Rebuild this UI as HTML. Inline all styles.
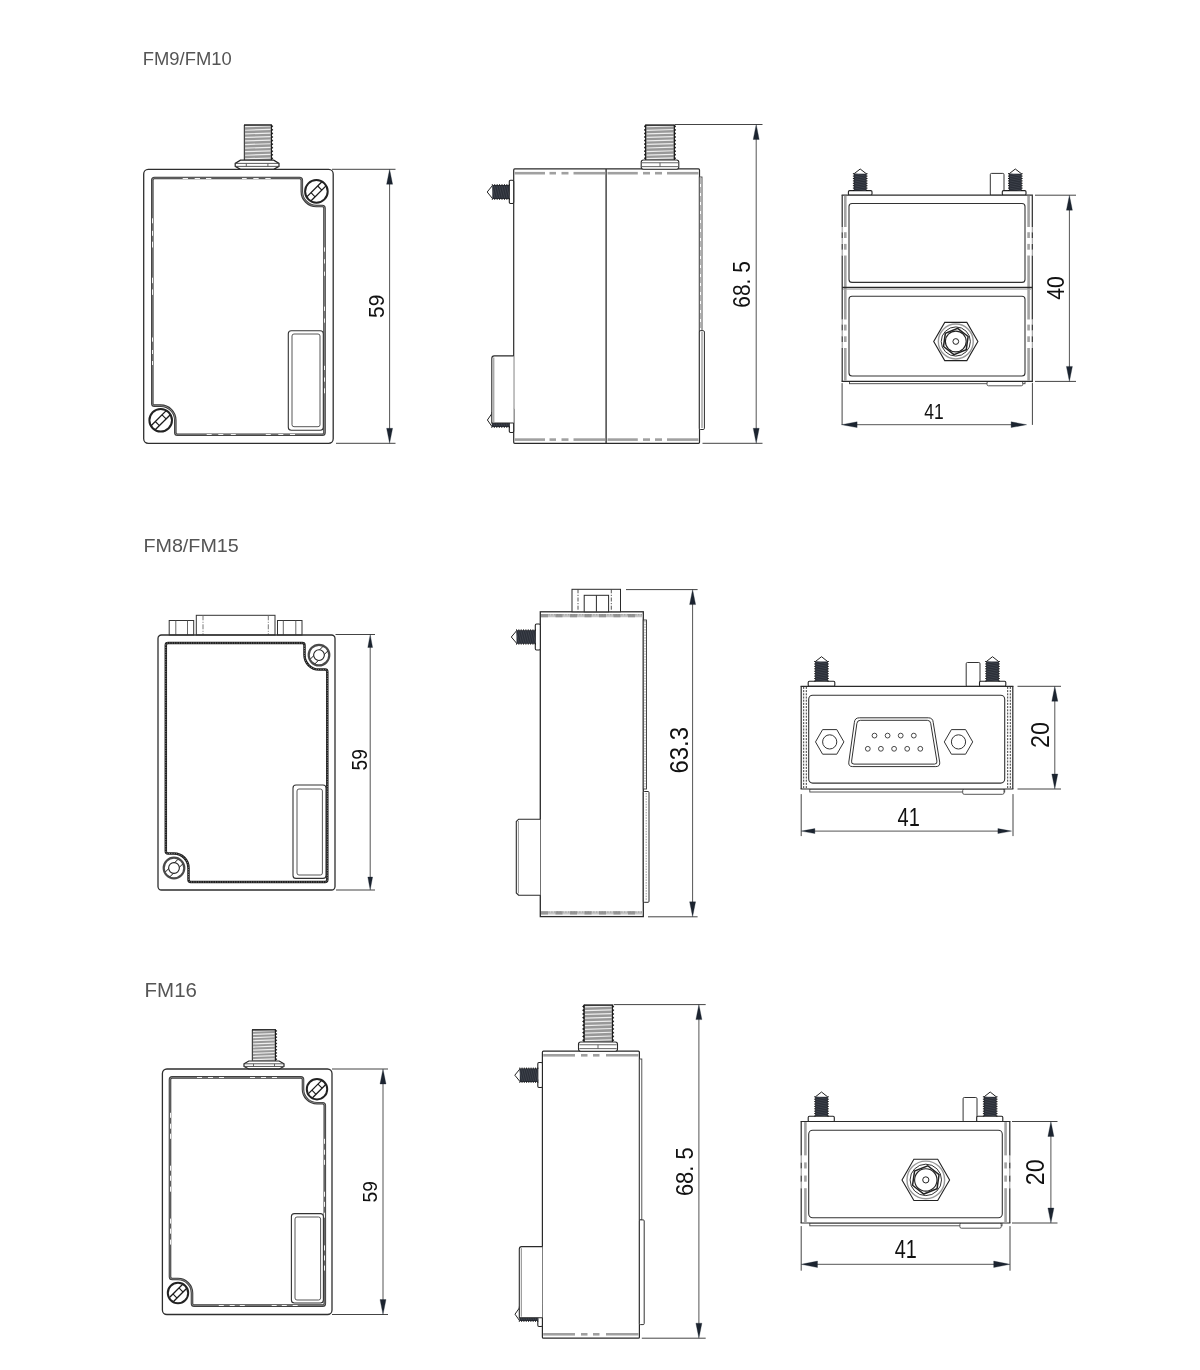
<!DOCTYPE html>
<html><head><meta charset="utf-8"><title>FM series dimensions</title>
<style>
html,body{margin:0;padding:0;background:#fff;}
body{width:1200px;height:1370px;overflow:hidden;font-family:"Liberation Sans",sans-serif;}
svg{display:block;will-change:transform;}
svg text{-webkit-font-smoothing:antialiased;}
svg text{font-family:"Liberation Sans",sans-serif;}
</style></head><body>
<svg width="1200" height="1370" viewBox="0 0 1200 1370">
<rect width="1200" height="1370" fill="#fff"/>
<rect x="244.3" y="124.5" width="27.2" height="35.7" fill="#989898"/>
<line x1="245.1" y1="126.69" x2="270.7" y2="125.88" stroke="#eeeeee" stroke-width="1.2" />
<line x1="245.1" y1="130.25" x2="270.7" y2="129.45" stroke="#eeeeee" stroke-width="1.2" />
<line x1="245.1" y1="133.83" x2="270.7" y2="133.03" stroke="#eeeeee" stroke-width="1.2" />
<line x1="245.1" y1="137.4" x2="270.7" y2="136.59" stroke="#eeeeee" stroke-width="1.2" />
<line x1="245.1" y1="140.97" x2="270.7" y2="140.16" stroke="#eeeeee" stroke-width="1.2" />
<line x1="245.1" y1="144.53" x2="270.7" y2="143.73" stroke="#eeeeee" stroke-width="1.2" />
<line x1="245.1" y1="148.1" x2="270.7" y2="147.3" stroke="#eeeeee" stroke-width="1.2" />
<line x1="245.1" y1="151.67" x2="270.7" y2="150.87" stroke="#eeeeee" stroke-width="1.2" />
<line x1="245.1" y1="155.25" x2="270.7" y2="154.44" stroke="#eeeeee" stroke-width="1.2" />
<line x1="245.1" y1="158.81" x2="270.7" y2="158.01" stroke="#eeeeee" stroke-width="1.2" />
<polygon points="271.2,124.68 273.1,126.28 271.2,127.89" fill="#111" stroke="#111" stroke-width="0.4" />
<polygon points="271.2,128.25 273.1,129.85 271.2,131.46" fill="#111" stroke="#111" stroke-width="0.4" />
<polygon points="271.2,131.82 273.1,133.43 271.2,135.03" fill="#111" stroke="#111" stroke-width="0.4" />
<polygon points="271.2,135.39 273.1,137 271.2,138.6" fill="#111" stroke="#111" stroke-width="0.4" />
<polygon points="271.2,138.96 273.1,140.56 271.2,142.17" fill="#111" stroke="#111" stroke-width="0.4" />
<polygon points="271.2,142.53 273.1,144.13 271.2,145.74" fill="#111" stroke="#111" stroke-width="0.4" />
<polygon points="271.2,146.1 273.1,147.7 271.2,149.31" fill="#111" stroke="#111" stroke-width="0.4" />
<polygon points="271.2,149.67 273.1,151.27 271.2,152.88" fill="#111" stroke="#111" stroke-width="0.4" />
<polygon points="271.2,153.24 273.1,154.84 271.2,156.45" fill="#111" stroke="#111" stroke-width="0.4" />
<polygon points="271.2,156.81 273.1,158.41 271.2,160.02" fill="#111" stroke="#111" stroke-width="0.4" />
<line x1="244.3" y1="125" x2="244.3" y2="160.2" stroke="#1a1a1a" stroke-width="0.9" />
<line x1="271.5" y1="125" x2="271.5" y2="160.2" stroke="#1a1a1a" stroke-width="0.9" />
<line x1="244" y1="125" x2="271.8" y2="125" stroke="#1a1a1a" stroke-width="1.3" />
<polygon points="240.46,160.2 273.74,160.2 279,163.38 279,166.39 273.74,169.3 240.46,169.3 235.2,166.39 235.2,163.38" fill="#fff" stroke="#222" stroke-width="1.2" />
<line x1="235.2" y1="163.38" x2="279" y2="163.38" stroke="#444" stroke-width="0.9" />
<line x1="235.2" y1="166.39" x2="279" y2="166.39" stroke="#444" stroke-width="0.9" />
<line x1="246.3" y1="163.38" x2="246.3" y2="166.39" stroke="#555" stroke-width="0.9" />
<line x1="267.9" y1="163.38" x2="267.9" y2="166.39" stroke="#555" stroke-width="0.9" />
<rect x="143.7" y="169.4" width="189.5" height="273.9" rx="4.5" fill="none" stroke="#2e2e2e" stroke-width="1.3" />
<path d="M152.3,180.2 Q152.3,178 154.5,178 L299.6,178 Q301.8,178 301.8,180.2 L301.8,191.4 A14.6,14.6 0 0 0 316.4,206 L322.3,206 Q324.5,206 324.5,208.2 L324.5,432.5 Q324.5,434.7 322.3,434.7 L177.5,434.7 Q175.3,434.7 175.3,432.5 L175.3,420.2 A14.6,14.6 0 0 0 160.7,405.6 L154.5,405.6 Q152.3,405.6 152.3,403.4 Z" fill="none" stroke="#3a3a3a" stroke-width="2.6" />
<path d="M152.3,180.2 Q152.3,178 154.5,178 L299.6,178 Q301.8,178 301.8,180.2 L301.8,191.4 A14.6,14.6 0 0 0 316.4,206 L322.3,206 Q324.5,206 324.5,208.2 L324.5,432.5 Q324.5,434.7 322.3,434.7 L177.5,434.7 Q175.3,434.7 175.3,432.5 L175.3,420.2 A14.6,14.6 0 0 0 160.7,405.6 L154.5,405.6 Q152.3,405.6 152.3,403.4 Z" fill="none" stroke="#9a9a9a" stroke-width="0.7" />
<line x1="182.7" y1="178.5" x2="188" y2="178.5" stroke="#f4f4f4" stroke-width="1.0" />
<line x1="194.7" y1="178.5" x2="200" y2="178.5" stroke="#f4f4f4" stroke-width="1.0" />
<line x1="206" y1="178.5" x2="211.3" y2="178.5" stroke="#f4f4f4" stroke-width="1.0" />
<line x1="242" y1="178.5" x2="246.7" y2="178.5" stroke="#f4f4f4" stroke-width="1.0" />
<line x1="253.3" y1="178.5" x2="258.7" y2="178.5" stroke="#f4f4f4" stroke-width="1.0" />
<line x1="265.3" y1="178.5" x2="270.7" y2="178.5" stroke="#f4f4f4" stroke-width="1.0" />
<line x1="152.5" y1="218.3" x2="152.5" y2="223.3" stroke="#f4f4f4" stroke-width="1.0" />
<line x1="152.5" y1="230.8" x2="152.5" y2="235.8" stroke="#f4f4f4" stroke-width="1.0" />
<line x1="152.5" y1="241.7" x2="152.5" y2="247.5" stroke="#f4f4f4" stroke-width="1.0" />
<line x1="152.5" y1="277.7" x2="152.5" y2="283.2" stroke="#f4f4f4" stroke-width="1.0" />
<line x1="152.5" y1="289.4" x2="152.5" y2="294.9" stroke="#f4f4f4" stroke-width="1.0" />
<line x1="152.5" y1="337.5" x2="152.5" y2="341.7" stroke="#f4f4f4" stroke-width="1.0" />
<line x1="152.5" y1="350" x2="152.5" y2="354" stroke="#f4f4f4" stroke-width="1.0" />
<line x1="152.5" y1="361" x2="152.5" y2="365" stroke="#f4f4f4" stroke-width="1.0" />
<line x1="206.7" y1="434.5" x2="211.7" y2="434.5" stroke="#f4f4f4" stroke-width="1.0" />
<line x1="218.3" y1="434.5" x2="223.3" y2="434.5" stroke="#f4f4f4" stroke-width="1.0" />
<line x1="230.8" y1="434.5" x2="235.8" y2="434.5" stroke="#f4f4f4" stroke-width="1.0" />
<line x1="265.8" y1="434.5" x2="270.8" y2="434.5" stroke="#f4f4f4" stroke-width="1.0" />
<line x1="278.3" y1="434.5" x2="283.3" y2="434.5" stroke="#f4f4f4" stroke-width="1.0" />
<line x1="290" y1="434.5" x2="295" y2="434.5" stroke="#f4f4f4" stroke-width="1.0" />
<line x1="324.5" y1="365.8" x2="324.5" y2="370" stroke="#f4f4f4" stroke-width="1.0" />
<line x1="324.5" y1="377.5" x2="324.5" y2="381.7" stroke="#f4f4f4" stroke-width="1.0" />
<line x1="324.5" y1="388.3" x2="324.5" y2="393.3" stroke="#f4f4f4" stroke-width="1.0" />
<line x1="324.5" y1="247.4" x2="324.5" y2="251.7" stroke="#f4f4f4" stroke-width="1.0" />
<line x1="324.5" y1="259.2" x2="324.5" y2="263.5" stroke="#f4f4f4" stroke-width="1.0" />
<line x1="324.5" y1="271.6" x2="324.5" y2="275.8" stroke="#f4f4f4" stroke-width="1.0" />
<line x1="324.5" y1="306.6" x2="324.5" y2="310.9" stroke="#f4f4f4" stroke-width="1.0" />
<line x1="324.5" y1="318.5" x2="324.5" y2="322.7" stroke="#f4f4f4" stroke-width="1.0" />
<circle cx="316.4" cy="191.4" r="11.3" fill="#fff" stroke="#222" stroke-width="2.0" />
<line x1="307.05" y1="196.65" x2="321.65" y2="182.05" stroke="#1a1a1a" stroke-width="1.3" />
<line x1="311.15" y1="200.75" x2="325.75" y2="186.15" stroke="#1a1a1a" stroke-width="1.3" />
<line x1="310.99" y1="192.71" x2="315.09" y2="196.81" stroke="#1a1a1a" stroke-width="1.1" />
<line x1="317.71" y1="185.99" x2="321.81" y2="190.09" stroke="#1a1a1a" stroke-width="1.1" />
<circle cx="160.7" cy="420.2" r="11.3" fill="#fff" stroke="#222" stroke-width="2.0" />
<line x1="151.35" y1="425.45" x2="165.95" y2="410.85" stroke="#1a1a1a" stroke-width="1.3" />
<line x1="155.45" y1="429.55" x2="170.05" y2="414.95" stroke="#1a1a1a" stroke-width="1.3" />
<line x1="155.29" y1="421.51" x2="159.39" y2="425.61" stroke="#1a1a1a" stroke-width="1.1" />
<line x1="162.01" y1="414.79" x2="166.11" y2="418.89" stroke="#1a1a1a" stroke-width="1.1" />
<rect x="288.3" y="330.8" width="35" height="99.5" rx="3" fill="#fff" stroke="#333" stroke-width="1.1" />
<rect x="292" y="334" width="28" height="92.7" rx="2" fill="none" stroke="#444" stroke-width="0.9" />
<line x1="332" y1="169.3" x2="395.5" y2="169.3" stroke="#444" stroke-width="1.0" />
<line x1="336" y1="443.3" x2="395.5" y2="443.3" stroke="#444" stroke-width="1.0" />
<line x1="389.6" y1="177.3" x2="389.6" y2="435.3" stroke="#555" stroke-width="1.0" />
<polygon points="389.6,169.3 392.6,184.3 386.6,184.3" fill="#1c2430" stroke="#1c2430" stroke-width="0.3" />
<polygon points="389.6,443.3 386.6,428.3 392.6,428.3" fill="#1c2430" stroke="#1c2430" stroke-width="0.3" />
<text opacity="0.999" transform="translate(384 317.1) rotate(-90) scale(0.9235 1)" x="-0.91" y="0" font-size="22.71" fill="#111" >59</text>
<rect x="196.3" y="615.3" width="78.7" height="19.7" rx="0" fill="#fff" stroke="#333" stroke-width="1.0" />
<line x1="203" y1="615.3" x2="203" y2="635" stroke="#666" stroke-width="0.9" stroke-dasharray="5 1.5 1 1.5"/>
<line x1="268.3" y1="615.3" x2="268.3" y2="635" stroke="#666" stroke-width="0.9" stroke-dasharray="5 1.5 1 1.5"/>
<rect x="169.2" y="620.5" width="24.5" height="14.5" rx="0" fill="#fff" stroke="#333" stroke-width="1.0" />
<line x1="175.8" y1="620.5" x2="175.8" y2="635" stroke="#555" stroke-width="0.9" />
<line x1="187.5" y1="620.5" x2="187.5" y2="635" stroke="#555" stroke-width="0.9" />
<rect x="277.5" y="620.5" width="24.5" height="14.5" rx="0" fill="#fff" stroke="#333" stroke-width="1.0" />
<line x1="283.3" y1="620.5" x2="283.3" y2="635" stroke="#555" stroke-width="0.9" />
<line x1="295.8" y1="620.5" x2="295.8" y2="635" stroke="#555" stroke-width="0.9" />
<rect x="158" y="635" width="177" height="255" rx="3.5" fill="none" stroke="#2e2e2e" stroke-width="1.3" />
<path d="M165.8,645.2 Q165.8,643 168,643 L302.3,643 Q304.5,643 304.5,645.2 L304.5,655.1 A14.5,14.5 0 0 0 319,669.6 L325.1,669.6 Q327.3,669.6 327.3,671.8 L327.3,879.8 Q327.3,882 325.1,882 L190.7,882 Q188.5,882 188.5,879.8 L188.5,868 A14.5,14.5 0 0 0 174,853.5 L168,853.5 Q165.8,853.5 165.8,851.3 Z" fill="none" stroke="#1e1e1e" stroke-width="2.5" />
<path d="M165.8,645.2 Q165.8,643 168,643 L302.3,643 Q304.5,643 304.5,645.2 L304.5,655.1 A14.5,14.5 0 0 0 319,669.6 L325.1,669.6 Q327.3,669.6 327.3,671.8 L327.3,879.8 Q327.3,882 325.1,882 L190.7,882 Q188.5,882 188.5,879.8 L188.5,868 A14.5,14.5 0 0 0 174,853.5 L168,853.5 Q165.8,853.5 165.8,851.3 Z" fill="none" stroke="#bbb" stroke-width="0.7" stroke-dasharray="1 1.4"/>
<circle cx="319" cy="655.1" r="10.3" fill="#fff" stroke="#4a4a4a" stroke-width="2.2" />
<line x1="310.19" y1="659.24" x2="323.14" y2="646.29" stroke="#1a1a1a" stroke-width="1.0" />
<line x1="314.86" y1="663.91" x2="327.81" y2="650.96" stroke="#1a1a1a" stroke-width="1.0" />
<circle cx="319" cy="655.1" r="5.36" fill="#fff" stroke="#222" stroke-width="1.1" />
<circle cx="174" cy="868" r="10.3" fill="#fff" stroke="#4a4a4a" stroke-width="2.2" />
<line x1="165.19" y1="872.14" x2="178.14" y2="859.19" stroke="#1a1a1a" stroke-width="1.0" />
<line x1="169.86" y1="876.81" x2="182.81" y2="863.86" stroke="#1a1a1a" stroke-width="1.0" />
<circle cx="174" cy="868" r="5.36" fill="#fff" stroke="#222" stroke-width="1.1" />
<rect x="293" y="785" width="33" height="93.4" rx="3" fill="#fff" stroke="#333" stroke-width="1.1" />
<rect x="297" y="789" width="25.4" height="86" rx="2" fill="none" stroke="#444" stroke-width="0.9" />
<line x1="335.5" y1="634.5" x2="375" y2="634.5" stroke="#444" stroke-width="1.0" />
<line x1="336" y1="890" x2="375" y2="890" stroke="#444" stroke-width="1.0" />
<line x1="370.2" y1="642.5" x2="370.2" y2="882" stroke="#555" stroke-width="1.0" />
<polygon points="370.2,634.5 372.6,647.5 367.8,647.5" fill="#1c2430" stroke="#1c2430" stroke-width="0.3" />
<polygon points="370.2,890 367.8,877 372.6,877" fill="#1c2430" stroke="#1c2430" stroke-width="0.3" />
<text opacity="0.999" transform="translate(366.7 769.7) rotate(-90) scale(0.8569 1)" x="-0.9" y="0" font-size="22.43" fill="#111" >59</text>
<rect x="252.3" y="1029.3" width="23.2" height="31.5" fill="#989898"/>
<line x1="253.1" y1="1031.28" x2="274.7" y2="1030.47" stroke="#eeeeee" stroke-width="1.2" />
<line x1="253.1" y1="1034.42" x2="274.7" y2="1033.62" stroke="#eeeeee" stroke-width="1.2" />
<line x1="253.1" y1="1037.58" x2="274.7" y2="1036.77" stroke="#eeeeee" stroke-width="1.2" />
<line x1="253.1" y1="1040.73" x2="274.7" y2="1039.92" stroke="#eeeeee" stroke-width="1.2" />
<line x1="253.1" y1="1043.88" x2="274.7" y2="1043.07" stroke="#eeeeee" stroke-width="1.2" />
<line x1="253.1" y1="1047.03" x2="274.7" y2="1046.22" stroke="#eeeeee" stroke-width="1.2" />
<line x1="253.1" y1="1050.17" x2="274.7" y2="1049.37" stroke="#eeeeee" stroke-width="1.2" />
<line x1="253.1" y1="1053.33" x2="274.7" y2="1052.52" stroke="#eeeeee" stroke-width="1.2" />
<line x1="253.1" y1="1056.48" x2="274.7" y2="1055.67" stroke="#eeeeee" stroke-width="1.2" />
<line x1="253.1" y1="1059.62" x2="274.7" y2="1058.82" stroke="#eeeeee" stroke-width="1.2" />
<polygon points="275.2,1029.46 277.1,1030.88 275.2,1032.29" fill="#111" stroke="#111" stroke-width="0.4" />
<polygon points="275.2,1032.61 277.1,1034.02 275.2,1035.44" fill="#111" stroke="#111" stroke-width="0.4" />
<polygon points="275.2,1035.76 277.1,1037.17 275.2,1038.59" fill="#111" stroke="#111" stroke-width="0.4" />
<polygon points="275.2,1038.91 277.1,1040.33 275.2,1041.74" fill="#111" stroke="#111" stroke-width="0.4" />
<polygon points="275.2,1042.06 277.1,1043.47 275.2,1044.89" fill="#111" stroke="#111" stroke-width="0.4" />
<polygon points="275.2,1045.21 277.1,1046.62 275.2,1048.04" fill="#111" stroke="#111" stroke-width="0.4" />
<polygon points="275.2,1048.36 277.1,1049.77 275.2,1051.19" fill="#111" stroke="#111" stroke-width="0.4" />
<polygon points="275.2,1051.51 277.1,1052.92 275.2,1054.34" fill="#111" stroke="#111" stroke-width="0.4" />
<polygon points="275.2,1054.66 277.1,1056.08 275.2,1057.49" fill="#111" stroke="#111" stroke-width="0.4" />
<polygon points="275.2,1057.81 277.1,1059.22 275.2,1060.64" fill="#111" stroke="#111" stroke-width="0.4" />
<line x1="252.3" y1="1029.8" x2="252.3" y2="1060.8" stroke="#1a1a1a" stroke-width="0.9" />
<line x1="275.5" y1="1029.8" x2="275.5" y2="1060.8" stroke="#1a1a1a" stroke-width="0.9" />
<line x1="252" y1="1029.8" x2="275.8" y2="1029.8" stroke="#1a1a1a" stroke-width="1.3" />
<polygon points="248.8,1061 279.2,1061 284,1063.8 284,1066.44 279.2,1069 248.8,1069 244,1066.44 244,1063.8" fill="#fff" stroke="#222" stroke-width="1.2" />
<line x1="244" y1="1063.8" x2="284" y2="1063.8" stroke="#444" stroke-width="0.9" />
<line x1="244" y1="1066.44" x2="284" y2="1066.44" stroke="#444" stroke-width="0.9" />
<line x1="253.5" y1="1063.8" x2="253.5" y2="1066.44" stroke="#555" stroke-width="0.9" />
<line x1="274.5" y1="1063.8" x2="274.5" y2="1066.44" stroke="#555" stroke-width="0.9" />
<rect x="162.4" y="1069" width="169.6" height="245.5" rx="4.5" fill="none" stroke="#2e2e2e" stroke-width="1.3" />
<path d="M170,1079.6 Q170,1077.4 172.2,1077.4 L300.8,1077.4 Q303,1077.4 303,1079.6 L303,1089.2 A14,14 0 0 0 317,1103.2 L322.6,1103.2 Q324.8,1103.2 324.8,1105.4 L324.8,1303.4 Q324.8,1305.6 322.6,1305.6 L194.2,1305.6 Q192,1305.6 192,1303.4 L192,1293 A14,14 0 0 0 178,1279 L172.2,1279 Q170,1279 170,1276.8 Z" fill="none" stroke="#3a3a3a" stroke-width="2.6" />
<path d="M170,1079.6 Q170,1077.4 172.2,1077.4 L300.8,1077.4 Q303,1077.4 303,1079.6 L303,1089.2 A14,14 0 0 0 317,1103.2 L322.6,1103.2 Q324.8,1103.2 324.8,1105.4 L324.8,1303.4 Q324.8,1305.6 322.6,1305.6 L194.2,1305.6 Q192,1305.6 192,1303.4 L192,1293 A14,14 0 0 0 178,1279 L172.2,1279 Q170,1279 170,1276.8 Z" fill="none" stroke="#9a9a9a" stroke-width="0.7" />
<line x1="197" y1="1077.5" x2="202" y2="1077.5" stroke="#f4f4f4" stroke-width="1.0" />
<line x1="208" y1="1077.5" x2="213" y2="1077.5" stroke="#f4f4f4" stroke-width="1.0" />
<line x1="219" y1="1077.5" x2="224" y2="1077.5" stroke="#f4f4f4" stroke-width="1.0" />
<line x1="250" y1="1077.5" x2="255" y2="1077.5" stroke="#f4f4f4" stroke-width="1.0" />
<line x1="261" y1="1077.5" x2="266" y2="1077.5" stroke="#f4f4f4" stroke-width="1.0" />
<line x1="272" y1="1077.5" x2="277" y2="1077.5" stroke="#f4f4f4" stroke-width="1.0" />
<line x1="170.5" y1="1112.8" x2="170.5" y2="1117.8" stroke="#f4f4f4" stroke-width="1.0" />
<line x1="170.5" y1="1123.7" x2="170.5" y2="1128.7" stroke="#f4f4f4" stroke-width="1.0" />
<line x1="170.5" y1="1133.7" x2="170.5" y2="1138.8" stroke="#f4f4f4" stroke-width="1.0" />
<line x1="170.5" y1="1165.7" x2="170.5" y2="1170.7" stroke="#f4f4f4" stroke-width="1.0" />
<line x1="170.5" y1="1175.7" x2="170.5" y2="1180.8" stroke="#f4f4f4" stroke-width="1.0" />
<line x1="170.5" y1="1186.6" x2="170.5" y2="1191.7" stroke="#f4f4f4" stroke-width="1.0" />
<line x1="170.5" y1="1218.6" x2="170.5" y2="1223.6" stroke="#f4f4f4" stroke-width="1.0" />
<line x1="170.5" y1="1228.6" x2="170.5" y2="1233.7" stroke="#f4f4f4" stroke-width="1.0" />
<line x1="170.5" y1="1239.6" x2="170.5" y2="1244.6" stroke="#f4f4f4" stroke-width="1.0" />
<line x1="324.5" y1="1138.8" x2="324.5" y2="1143.8" stroke="#f4f4f4" stroke-width="1.0" />
<line x1="324.5" y1="1149.7" x2="324.5" y2="1154.7" stroke="#f4f4f4" stroke-width="1.0" />
<line x1="324.5" y1="1159.8" x2="324.5" y2="1164.8" stroke="#f4f4f4" stroke-width="1.0" />
<line x1="324.5" y1="1191.7" x2="324.5" y2="1196.7" stroke="#f4f4f4" stroke-width="1.0" />
<line x1="324.5" y1="1201.8" x2="324.5" y2="1206.8" stroke="#f4f4f4" stroke-width="1.0" />
<line x1="324.5" y1="1212.7" x2="324.5" y2="1217.7" stroke="#f4f4f4" stroke-width="1.0" />
<line x1="324.5" y1="1245.4" x2="324.5" y2="1250.5" stroke="#f4f4f4" stroke-width="1.0" />
<line x1="324.5" y1="1255.5" x2="324.5" y2="1260.5" stroke="#f4f4f4" stroke-width="1.0" />
<line x1="324.5" y1="1265.6" x2="324.5" y2="1270.6" stroke="#f4f4f4" stroke-width="1.0" />
<line x1="218.8" y1="1305.5" x2="223.8" y2="1305.5" stroke="#f4f4f4" stroke-width="1.0" />
<line x1="229.7" y1="1305.5" x2="234.7" y2="1305.5" stroke="#f4f4f4" stroke-width="1.0" />
<line x1="239.8" y1="1305.5" x2="244.8" y2="1305.5" stroke="#f4f4f4" stroke-width="1.0" />
<line x1="271.7" y1="1305.5" x2="276.7" y2="1305.5" stroke="#f4f4f4" stroke-width="1.0" />
<line x1="281.8" y1="1305.5" x2="286.8" y2="1305.5" stroke="#f4f4f4" stroke-width="1.0" />
<line x1="292.7" y1="1305.5" x2="297.7" y2="1305.5" stroke="#f4f4f4" stroke-width="1.0" />
<circle cx="317" cy="1089.2" r="10.2" fill="#fff" stroke="#222" stroke-width="2.0" />
<line x1="308.46" y1="1093.64" x2="321.44" y2="1080.66" stroke="#1a1a1a" stroke-width="1.3" />
<line x1="312.56" y1="1097.74" x2="325.54" y2="1084.76" stroke="#1a1a1a" stroke-width="1.3" />
<line x1="311.92" y1="1090.18" x2="316.02" y2="1094.28" stroke="#1a1a1a" stroke-width="1.1" />
<line x1="317.98" y1="1084.12" x2="322.08" y2="1088.22" stroke="#1a1a1a" stroke-width="1.1" />
<circle cx="178" cy="1293" r="10.2" fill="#fff" stroke="#222" stroke-width="2.0" />
<line x1="169.46" y1="1297.44" x2="182.44" y2="1284.46" stroke="#1a1a1a" stroke-width="1.3" />
<line x1="173.56" y1="1301.54" x2="186.54" y2="1288.56" stroke="#1a1a1a" stroke-width="1.3" />
<line x1="172.92" y1="1293.98" x2="177.02" y2="1298.08" stroke="#1a1a1a" stroke-width="1.1" />
<line x1="178.98" y1="1287.92" x2="183.08" y2="1292.02" stroke="#1a1a1a" stroke-width="1.1" />
<rect x="291.4" y="1213.6" width="32" height="89.4" rx="3" fill="#fff" stroke="#333" stroke-width="1.1" />
<rect x="295" y="1217" width="25.6" height="83" rx="2" fill="none" stroke="#444" stroke-width="0.9" />
<line x1="332" y1="1069" x2="388" y2="1069" stroke="#444" stroke-width="1.0" />
<line x1="332" y1="1314.5" x2="388" y2="1314.5" stroke="#444" stroke-width="1.0" />
<line x1="383" y1="1077" x2="383" y2="1306.5" stroke="#555" stroke-width="1.0" />
<polygon points="383,1069 386,1084 380,1084" fill="#1c2430" stroke="#1c2430" stroke-width="0.3" />
<polygon points="383,1314.5 380,1299.5 386,1299.5" fill="#1c2430" stroke="#1c2430" stroke-width="0.3" />
<text opacity="0.999" transform="translate(377 1201.7) rotate(-90) scale(0.9474 1)" x="-0.81" y="0" font-size="20.29" fill="#111" >59</text>
<rect x="513.7" y="168.9" width="185.8" height="274.4" rx="1" fill="none" stroke="#2a2a2a" stroke-width="1.2" />
<line x1="606.1" y1="168.9" x2="606.1" y2="443.3" stroke="#2a2a2a" stroke-width="1.3" />
<line x1="514.5" y1="173.2" x2="545" y2="173.2" stroke="#a0a0a0" stroke-width="2.6" />
<line x1="549.5" y1="173.2" x2="556" y2="173.2" stroke="#a0a0a0" stroke-width="2.6" />
<line x1="561.5" y1="173.2" x2="568.5" y2="173.2" stroke="#a0a0a0" stroke-width="2.6" />
<line x1="573.5" y1="173.2" x2="605" y2="173.2" stroke="#a0a0a0" stroke-width="2.6" />
<line x1="607.5" y1="173.2" x2="637.8" y2="173.2" stroke="#a0a0a0" stroke-width="2.6" />
<line x1="643" y1="173.2" x2="650" y2="173.2" stroke="#a0a0a0" stroke-width="2.6" />
<line x1="655" y1="173.2" x2="662" y2="173.2" stroke="#a0a0a0" stroke-width="2.6" />
<line x1="667" y1="173.2" x2="698.5" y2="173.2" stroke="#a0a0a0" stroke-width="2.6" />
<line x1="514.5" y1="439.6" x2="545" y2="439.6" stroke="#a0a0a0" stroke-width="2.6" />
<line x1="549.5" y1="439.6" x2="556" y2="439.6" stroke="#a0a0a0" stroke-width="2.6" />
<line x1="561.5" y1="439.6" x2="568.5" y2="439.6" stroke="#a0a0a0" stroke-width="2.6" />
<line x1="573.5" y1="439.6" x2="605" y2="439.6" stroke="#a0a0a0" stroke-width="2.6" />
<line x1="607.5" y1="439.6" x2="637.8" y2="439.6" stroke="#a0a0a0" stroke-width="2.6" />
<line x1="643" y1="439.6" x2="650" y2="439.6" stroke="#a0a0a0" stroke-width="2.6" />
<line x1="655" y1="439.6" x2="662" y2="439.6" stroke="#a0a0a0" stroke-width="2.6" />
<line x1="667" y1="439.6" x2="698.5" y2="439.6" stroke="#a0a0a0" stroke-width="2.6" />
<rect x="699.3" y="177" width="2.7" height="154" rx="0" fill="#fff" stroke="#444" stroke-width="0.9" />
<line x1="700.6" y1="178" x2="700.6" y2="330" stroke="#999" stroke-width="0.8" stroke-dasharray="6 3"/>
<rect x="699.3" y="330.7" width="5.1" height="98.8" rx="1.2" fill="#fff" stroke="#2a2a2a" stroke-width="1.0" />
<line x1="702" y1="332" x2="702" y2="428" stroke="#555" stroke-width="0.8" />
<rect x="645.6" y="124.6" width="28.8" height="35.4" fill="#989898"/>
<line x1="646.4" y1="126.77" x2="673.6" y2="125.97" stroke="#eeeeee" stroke-width="1.2" />
<line x1="646.4" y1="130.31" x2="673.6" y2="129.51" stroke="#eeeeee" stroke-width="1.2" />
<line x1="646.4" y1="133.85" x2="673.6" y2="133.05" stroke="#eeeeee" stroke-width="1.2" />
<line x1="646.4" y1="137.39" x2="673.6" y2="136.59" stroke="#eeeeee" stroke-width="1.2" />
<line x1="646.4" y1="140.93" x2="673.6" y2="140.13" stroke="#eeeeee" stroke-width="1.2" />
<line x1="646.4" y1="144.47" x2="673.6" y2="143.67" stroke="#eeeeee" stroke-width="1.2" />
<line x1="646.4" y1="148.01" x2="673.6" y2="147.21" stroke="#eeeeee" stroke-width="1.2" />
<line x1="646.4" y1="151.55" x2="673.6" y2="150.75" stroke="#eeeeee" stroke-width="1.2" />
<line x1="646.4" y1="155.09" x2="673.6" y2="154.29" stroke="#eeeeee" stroke-width="1.2" />
<line x1="646.4" y1="158.63" x2="673.6" y2="157.83" stroke="#eeeeee" stroke-width="1.2" />
<polygon points="674.1,124.78 676,126.37 674.1,127.96" fill="#111" stroke="#111" stroke-width="0.4" />
<polygon points="645.9,124.78 644,126.37 645.9,127.96" fill="#111" stroke="#111" stroke-width="0.4" />
<polygon points="674.1,128.32 676,129.91 674.1,131.5" fill="#111" stroke="#111" stroke-width="0.4" />
<polygon points="645.9,128.32 644,129.91 645.9,131.5" fill="#111" stroke="#111" stroke-width="0.4" />
<polygon points="674.1,131.86 676,133.45 674.1,135.04" fill="#111" stroke="#111" stroke-width="0.4" />
<polygon points="645.9,131.86 644,133.45 645.9,135.04" fill="#111" stroke="#111" stroke-width="0.4" />
<polygon points="674.1,135.4 676,136.99 674.1,138.58" fill="#111" stroke="#111" stroke-width="0.4" />
<polygon points="645.9,135.4 644,136.99 645.9,138.58" fill="#111" stroke="#111" stroke-width="0.4" />
<polygon points="674.1,138.94 676,140.53 674.1,142.12" fill="#111" stroke="#111" stroke-width="0.4" />
<polygon points="645.9,138.94 644,140.53 645.9,142.12" fill="#111" stroke="#111" stroke-width="0.4" />
<polygon points="674.1,142.48 676,144.07 674.1,145.66" fill="#111" stroke="#111" stroke-width="0.4" />
<polygon points="645.9,142.48 644,144.07 645.9,145.66" fill="#111" stroke="#111" stroke-width="0.4" />
<polygon points="674.1,146.02 676,147.61 674.1,149.2" fill="#111" stroke="#111" stroke-width="0.4" />
<polygon points="645.9,146.02 644,147.61 645.9,149.2" fill="#111" stroke="#111" stroke-width="0.4" />
<polygon points="674.1,149.56 676,151.15 674.1,152.74" fill="#111" stroke="#111" stroke-width="0.4" />
<polygon points="645.9,149.56 644,151.15 645.9,152.74" fill="#111" stroke="#111" stroke-width="0.4" />
<polygon points="674.1,153.1 676,154.69 674.1,156.28" fill="#111" stroke="#111" stroke-width="0.4" />
<polygon points="645.9,153.1 644,154.69 645.9,156.28" fill="#111" stroke="#111" stroke-width="0.4" />
<polygon points="674.1,156.64 676,158.23 674.1,159.82" fill="#111" stroke="#111" stroke-width="0.4" />
<polygon points="645.9,156.64 644,158.23 645.9,159.82" fill="#111" stroke="#111" stroke-width="0.4" />
<line x1="645.6" y1="125.1" x2="645.6" y2="160" stroke="#1a1a1a" stroke-width="0.9" />
<line x1="674.4" y1="125.1" x2="674.4" y2="160" stroke="#1a1a1a" stroke-width="0.9" />
<line x1="645.3" y1="125.1" x2="674.7" y2="125.1" stroke="#1a1a1a" stroke-width="1.3" />
<rect x="641.2" y="160" width="37.6" height="9.2" rx="2.2" fill="#fff" stroke="#2a2a2a" stroke-width="1.1" />
<line x1="642" y1="162.76" x2="678" y2="162.76" stroke="#555" stroke-width="0.9" />
<line x1="642" y1="166.62" x2="678" y2="166.62" stroke="#555" stroke-width="0.9" />
<line x1="660" y1="162.76" x2="660" y2="166.62" stroke="#555" stroke-width="0.9" />
<rect x="509.3" y="180.3" width="4.4" height="23.2" rx="1.2" fill="#fff" stroke="#222" stroke-width="1.1" />
<polyline points="492.3,185.7 487.2,192 492.3,198.3" fill="#fff" stroke="#222" stroke-width="1.0" />
<rect x="492.3" y="185" width="17" height="14" fill="#2b2f38"/>
<line x1="492.3" y1="184.2" x2="492.3" y2="185.5" stroke="#111" stroke-width="1.0" />
<line x1="492.3" y1="198.5" x2="492.3" y2="199.8" stroke="#111" stroke-width="1.0" />
<line x1="494.73" y1="184.2" x2="494.73" y2="185.5" stroke="#111" stroke-width="1.0" />
<line x1="494.73" y1="198.5" x2="494.73" y2="199.8" stroke="#111" stroke-width="1.0" />
<line x1="497.16" y1="184.2" x2="497.16" y2="185.5" stroke="#111" stroke-width="1.0" />
<line x1="497.16" y1="198.5" x2="497.16" y2="199.8" stroke="#111" stroke-width="1.0" />
<line x1="499.59" y1="184.2" x2="499.59" y2="185.5" stroke="#111" stroke-width="1.0" />
<line x1="499.59" y1="198.5" x2="499.59" y2="199.8" stroke="#111" stroke-width="1.0" />
<line x1="502.01" y1="184.2" x2="502.01" y2="185.5" stroke="#111" stroke-width="1.0" />
<line x1="502.01" y1="198.5" x2="502.01" y2="199.8" stroke="#111" stroke-width="1.0" />
<line x1="504.44" y1="184.2" x2="504.44" y2="185.5" stroke="#111" stroke-width="1.0" />
<line x1="504.44" y1="198.5" x2="504.44" y2="199.8" stroke="#111" stroke-width="1.0" />
<line x1="506.87" y1="184.2" x2="506.87" y2="185.5" stroke="#111" stroke-width="1.0" />
<line x1="506.87" y1="198.5" x2="506.87" y2="199.8" stroke="#111" stroke-width="1.0" />
<line x1="509.3" y1="184.2" x2="509.3" y2="185.5" stroke="#111" stroke-width="1.0" />
<line x1="509.3" y1="198.5" x2="509.3" y2="199.8" stroke="#111" stroke-width="1.0" />
<line x1="492.01" y1="186" x2="495.01" y2="198" stroke="#4a4f58" stroke-width="0.6" />
<line x1="494.44" y1="186" x2="497.44" y2="198" stroke="#4a4f58" stroke-width="0.6" />
<line x1="496.87" y1="186" x2="499.87" y2="198" stroke="#4a4f58" stroke-width="0.6" />
<line x1="499.3" y1="186" x2="502.3" y2="198" stroke="#4a4f58" stroke-width="0.6" />
<line x1="501.73" y1="186" x2="504.73" y2="198" stroke="#4a4f58" stroke-width="0.6" />
<line x1="504.16" y1="186" x2="507.16" y2="198" stroke="#4a4f58" stroke-width="0.6" />
<line x1="506.59" y1="186" x2="509.59" y2="198" stroke="#4a4f58" stroke-width="0.6" />
<rect x="509.3" y="408" width="4.4" height="24.5" rx="1.2" fill="#fff" stroke="#222" stroke-width="1.1" />
<polyline points="491.8,413.7 487.4,420 491.8,426.3" fill="#fff" stroke="#222" stroke-width="1.0" />
<rect x="491.8" y="413" width="17.5" height="14" fill="#2b2f38"/>
<line x1="491.8" y1="412.2" x2="491.8" y2="413.5" stroke="#111" stroke-width="1.0" />
<line x1="491.8" y1="426.5" x2="491.8" y2="427.8" stroke="#111" stroke-width="1.0" />
<line x1="494.3" y1="412.2" x2="494.3" y2="413.5" stroke="#111" stroke-width="1.0" />
<line x1="494.3" y1="426.5" x2="494.3" y2="427.8" stroke="#111" stroke-width="1.0" />
<line x1="496.8" y1="412.2" x2="496.8" y2="413.5" stroke="#111" stroke-width="1.0" />
<line x1="496.8" y1="426.5" x2="496.8" y2="427.8" stroke="#111" stroke-width="1.0" />
<line x1="499.3" y1="412.2" x2="499.3" y2="413.5" stroke="#111" stroke-width="1.0" />
<line x1="499.3" y1="426.5" x2="499.3" y2="427.8" stroke="#111" stroke-width="1.0" />
<line x1="501.8" y1="412.2" x2="501.8" y2="413.5" stroke="#111" stroke-width="1.0" />
<line x1="501.8" y1="426.5" x2="501.8" y2="427.8" stroke="#111" stroke-width="1.0" />
<line x1="504.3" y1="412.2" x2="504.3" y2="413.5" stroke="#111" stroke-width="1.0" />
<line x1="504.3" y1="426.5" x2="504.3" y2="427.8" stroke="#111" stroke-width="1.0" />
<line x1="506.8" y1="412.2" x2="506.8" y2="413.5" stroke="#111" stroke-width="1.0" />
<line x1="506.8" y1="426.5" x2="506.8" y2="427.8" stroke="#111" stroke-width="1.0" />
<line x1="509.3" y1="412.2" x2="509.3" y2="413.5" stroke="#111" stroke-width="1.0" />
<line x1="509.3" y1="426.5" x2="509.3" y2="427.8" stroke="#111" stroke-width="1.0" />
<line x1="491.55" y1="414" x2="494.55" y2="426" stroke="#4a4f58" stroke-width="0.6" />
<line x1="494.05" y1="414" x2="497.05" y2="426" stroke="#4a4f58" stroke-width="0.6" />
<line x1="496.55" y1="414" x2="499.55" y2="426" stroke="#4a4f58" stroke-width="0.6" />
<line x1="499.05" y1="414" x2="502.05" y2="426" stroke="#4a4f58" stroke-width="0.6" />
<line x1="501.55" y1="414" x2="504.55" y2="426" stroke="#4a4f58" stroke-width="0.6" />
<line x1="504.05" y1="414" x2="507.05" y2="426" stroke="#4a4f58" stroke-width="0.6" />
<line x1="506.55" y1="414" x2="509.55" y2="426" stroke="#4a4f58" stroke-width="0.6" />
<path d="M513.7,355.9 L494.3,355.9 Q491.8,355.9 491.8,358.4 L491.8,423 L513.7,423" fill="#fff" stroke="#2a2a2a" stroke-width="1.1" />
<line x1="493.8" y1="357.5" x2="493.8" y2="422" stroke="#888" stroke-width="1.0" />
<line x1="675" y1="124.5" x2="762.5" y2="124.5" stroke="#444" stroke-width="1.0" />
<line x1="702.5" y1="443.3" x2="762.5" y2="443.3" stroke="#444" stroke-width="1.0" />
<line x1="756.2" y1="132.5" x2="756.2" y2="435.3" stroke="#555" stroke-width="1.0" />
<polygon points="756.2,124.5 759.2,139.5 753.2,139.5" fill="#1c2430" stroke="#1c2430" stroke-width="0.3" />
<polygon points="756.2,443.3 753.2,428.3 759.2,428.3" fill="#1c2430" stroke="#1c2430" stroke-width="0.3" />
<text opacity="0.999" transform="translate(750.3 306.7) rotate(-90) scale(0.9103 1)" x="-1.15" y="0" font-size="23.00" fill="#111" >68. 5</text>
<rect x="540.3" y="611.8" width="103" height="304.8" rx="0" fill="none" stroke="#2a2a2a" stroke-width="1.3" />
<line x1="541" y1="615.6" x2="642.6" y2="615.6" stroke="#c4c4c4" stroke-width="3.2" />
<line x1="541" y1="615.6" x2="642.6" y2="615.6" stroke="#959595" stroke-width="3.2" stroke-dasharray="7 7.5"/>
<line x1="548.5" y1="614.8" x2="642.6" y2="614.8" stroke="#888" stroke-width="0.8" stroke-dasharray="1.2 1.6" stroke-dashoffset="0"/>
<line x1="541" y1="912.8" x2="642.6" y2="912.8" stroke="#c4c4c4" stroke-width="3.2" />
<line x1="541" y1="912.8" x2="642.6" y2="912.8" stroke="#959595" stroke-width="3.2" stroke-dasharray="7 7.5"/>
<line x1="548.5" y1="912" x2="642.6" y2="912" stroke="#888" stroke-width="0.8" stroke-dasharray="1.2 1.6" stroke-dashoffset="0"/>
<rect x="572" y="589.3" width="48.5" height="22.5" rx="0" fill="#fff" stroke="#2a2a2a" stroke-width="1.0" />
<line x1="578" y1="589.3" x2="578" y2="611.8" stroke="#444" stroke-width="0.9" stroke-dasharray="4 1.5 1.2 1.5"/>
<line x1="611.3" y1="589.3" x2="611.3" y2="611.8" stroke="#444" stroke-width="0.9" stroke-dasharray="4 1.5 1.2 1.5"/>
<rect x="584.2" y="595.3" width="24.4" height="16.5" rx="0" fill="#fff" stroke="#2a2a2a" stroke-width="1.0" />
<line x1="596.4" y1="595.3" x2="596.4" y2="611.8" stroke="#2a2a2a" stroke-width="1.0" />
<rect x="643.3" y="620" width="3.2" height="169" rx="0" fill="#fff" stroke="#333" stroke-width="0.9" />
<line x1="645" y1="621" x2="645" y2="788" stroke="#777" stroke-width="0.8" stroke-dasharray="1.5 1.2"/>
<rect x="643.3" y="791.5" width="5.7" height="110.8" rx="1" fill="#fff" stroke="#2a2a2a" stroke-width="1.0" />
<line x1="646.2" y1="793" x2="646.2" y2="901" stroke="#777" stroke-width="0.8" stroke-dasharray="1.5 1.2"/>
<rect x="535.3" y="624" width="5" height="26" rx="1.2" fill="#fff" stroke="#222" stroke-width="1.1" />
<polyline points="516.5,630.88 511.3,637 516.5,643.12" fill="#fff" stroke="#222" stroke-width="1.0" />
<rect x="516.5" y="630.2" width="18.8" height="13.6" fill="#2b2f38"/>
<line x1="516.5" y1="629.4" x2="516.5" y2="630.7" stroke="#111" stroke-width="1.0" />
<line x1="516.5" y1="643.3" x2="516.5" y2="644.6" stroke="#111" stroke-width="1.0" />
<line x1="518.85" y1="629.4" x2="518.85" y2="630.7" stroke="#111" stroke-width="1.0" />
<line x1="518.85" y1="643.3" x2="518.85" y2="644.6" stroke="#111" stroke-width="1.0" />
<line x1="521.2" y1="629.4" x2="521.2" y2="630.7" stroke="#111" stroke-width="1.0" />
<line x1="521.2" y1="643.3" x2="521.2" y2="644.6" stroke="#111" stroke-width="1.0" />
<line x1="523.55" y1="629.4" x2="523.55" y2="630.7" stroke="#111" stroke-width="1.0" />
<line x1="523.55" y1="643.3" x2="523.55" y2="644.6" stroke="#111" stroke-width="1.0" />
<line x1="525.9" y1="629.4" x2="525.9" y2="630.7" stroke="#111" stroke-width="1.0" />
<line x1="525.9" y1="643.3" x2="525.9" y2="644.6" stroke="#111" stroke-width="1.0" />
<line x1="528.25" y1="629.4" x2="528.25" y2="630.7" stroke="#111" stroke-width="1.0" />
<line x1="528.25" y1="643.3" x2="528.25" y2="644.6" stroke="#111" stroke-width="1.0" />
<line x1="530.6" y1="629.4" x2="530.6" y2="630.7" stroke="#111" stroke-width="1.0" />
<line x1="530.6" y1="643.3" x2="530.6" y2="644.6" stroke="#111" stroke-width="1.0" />
<line x1="532.95" y1="629.4" x2="532.95" y2="630.7" stroke="#111" stroke-width="1.0" />
<line x1="532.95" y1="643.3" x2="532.95" y2="644.6" stroke="#111" stroke-width="1.0" />
<line x1="535.3" y1="629.4" x2="535.3" y2="630.7" stroke="#111" stroke-width="1.0" />
<line x1="535.3" y1="643.3" x2="535.3" y2="644.6" stroke="#111" stroke-width="1.0" />
<line x1="516.17" y1="631.2" x2="519.17" y2="642.8" stroke="#4a4f58" stroke-width="0.6" />
<line x1="518.52" y1="631.2" x2="521.52" y2="642.8" stroke="#4a4f58" stroke-width="0.6" />
<line x1="520.88" y1="631.2" x2="523.88" y2="642.8" stroke="#4a4f58" stroke-width="0.6" />
<line x1="523.23" y1="631.2" x2="526.23" y2="642.8" stroke="#4a4f58" stroke-width="0.6" />
<line x1="525.57" y1="631.2" x2="528.57" y2="642.8" stroke="#4a4f58" stroke-width="0.6" />
<line x1="527.92" y1="631.2" x2="530.92" y2="642.8" stroke="#4a4f58" stroke-width="0.6" />
<line x1="530.27" y1="631.2" x2="533.27" y2="642.8" stroke="#4a4f58" stroke-width="0.6" />
<line x1="532.62" y1="631.2" x2="535.62" y2="642.8" stroke="#4a4f58" stroke-width="0.6" />
<path d="M540.3,819.2 L518.6,819.2 L516.3,821.5 L516.3,892.9 L518.6,895.2 L540.3,895.2" fill="#fff" stroke="#2a2a2a" stroke-width="1.1" />
<line x1="518.4" y1="821" x2="518.4" y2="893.4" stroke="#888" stroke-width="0.9" />
<line x1="626" y1="589.6" x2="697.6" y2="589.6" stroke="#444" stroke-width="1.0" />
<line x1="648" y1="916.8" x2="697.6" y2="916.8" stroke="#444" stroke-width="1.0" />
<line x1="692.6" y1="597.6" x2="692.6" y2="908.8" stroke="#555" stroke-width="1.0" />
<polygon points="692.6,589.6 695.6,604.6 689.6,604.6" fill="#1c2430" stroke="#1c2430" stroke-width="0.3" />
<polygon points="692.6,916.8 689.6,901.8 695.6,901.8" fill="#1c2430" stroke="#1c2430" stroke-width="0.3" />
<text opacity="0.999" transform="translate(688 772.4) rotate(-90) scale(0.9633 1)" x="-1.24" y="0" font-size="24.86" fill="#111" >63.3</text>
<rect x="542.4" y="1051.2" width="97" height="287" rx="1" fill="none" stroke="#2a2a2a" stroke-width="1.2" />
<line x1="543.2" y1="1055.3" x2="575" y2="1055.3" stroke="#a0a0a0" stroke-width="2.6" />
<line x1="581" y1="1055.3" x2="587.5" y2="1055.3" stroke="#a0a0a0" stroke-width="2.6" />
<line x1="593" y1="1055.3" x2="599.5" y2="1055.3" stroke="#a0a0a0" stroke-width="2.6" />
<line x1="606" y1="1055.3" x2="638.6" y2="1055.3" stroke="#a0a0a0" stroke-width="2.6" />
<line x1="543.2" y1="1334.3" x2="575" y2="1334.3" stroke="#a0a0a0" stroke-width="2.6" />
<line x1="581" y1="1334.3" x2="587.5" y2="1334.3" stroke="#a0a0a0" stroke-width="2.6" />
<line x1="593" y1="1334.3" x2="599.5" y2="1334.3" stroke="#a0a0a0" stroke-width="2.6" />
<line x1="606" y1="1334.3" x2="638.6" y2="1334.3" stroke="#a0a0a0" stroke-width="2.6" />
<rect x="639.4" y="1059" width="2.4" height="160.9" rx="0" fill="#fff" stroke="#444" stroke-width="0.9" />
<rect x="639.4" y="1219.9" width="4.8" height="104.7" rx="1" fill="#fff" stroke="#333" stroke-width="1.0" />
<rect x="584" y="1004.6" width="28.5" height="37.4" fill="#989898"/>
<line x1="584.8" y1="1006.87" x2="611.7" y2="1006.07" stroke="#eeeeee" stroke-width="1.2" />
<line x1="584.8" y1="1010.61" x2="611.7" y2="1009.81" stroke="#eeeeee" stroke-width="1.2" />
<line x1="584.8" y1="1014.35" x2="611.7" y2="1013.55" stroke="#eeeeee" stroke-width="1.2" />
<line x1="584.8" y1="1018.09" x2="611.7" y2="1017.29" stroke="#eeeeee" stroke-width="1.2" />
<line x1="584.8" y1="1021.83" x2="611.7" y2="1021.03" stroke="#eeeeee" stroke-width="1.2" />
<line x1="584.8" y1="1025.57" x2="611.7" y2="1024.77" stroke="#eeeeee" stroke-width="1.2" />
<line x1="584.8" y1="1029.31" x2="611.7" y2="1028.51" stroke="#eeeeee" stroke-width="1.2" />
<line x1="584.8" y1="1033.05" x2="611.7" y2="1032.25" stroke="#eeeeee" stroke-width="1.2" />
<line x1="584.8" y1="1036.79" x2="611.7" y2="1035.99" stroke="#eeeeee" stroke-width="1.2" />
<line x1="584.8" y1="1040.53" x2="611.7" y2="1039.73" stroke="#eeeeee" stroke-width="1.2" />
<polygon points="612.2,1004.79 614.1,1006.47 612.2,1008.15" fill="#111" stroke="#111" stroke-width="0.4" />
<polygon points="584.3,1004.79 582.4,1006.47 584.3,1008.15" fill="#111" stroke="#111" stroke-width="0.4" />
<polygon points="612.2,1008.53 614.1,1010.21 612.2,1011.89" fill="#111" stroke="#111" stroke-width="0.4" />
<polygon points="584.3,1008.53 582.4,1010.21 584.3,1011.89" fill="#111" stroke="#111" stroke-width="0.4" />
<polygon points="612.2,1012.27 614.1,1013.95 612.2,1015.63" fill="#111" stroke="#111" stroke-width="0.4" />
<polygon points="584.3,1012.27 582.4,1013.95 584.3,1015.63" fill="#111" stroke="#111" stroke-width="0.4" />
<polygon points="612.2,1016.01 614.1,1017.69 612.2,1019.37" fill="#111" stroke="#111" stroke-width="0.4" />
<polygon points="584.3,1016.01 582.4,1017.69 584.3,1019.37" fill="#111" stroke="#111" stroke-width="0.4" />
<polygon points="612.2,1019.75 614.1,1021.43 612.2,1023.11" fill="#111" stroke="#111" stroke-width="0.4" />
<polygon points="584.3,1019.75 582.4,1021.43 584.3,1023.11" fill="#111" stroke="#111" stroke-width="0.4" />
<polygon points="612.2,1023.49 614.1,1025.17 612.2,1026.85" fill="#111" stroke="#111" stroke-width="0.4" />
<polygon points="584.3,1023.49 582.4,1025.17 584.3,1026.85" fill="#111" stroke="#111" stroke-width="0.4" />
<polygon points="612.2,1027.23 614.1,1028.91 612.2,1030.59" fill="#111" stroke="#111" stroke-width="0.4" />
<polygon points="584.3,1027.23 582.4,1028.91 584.3,1030.59" fill="#111" stroke="#111" stroke-width="0.4" />
<polygon points="612.2,1030.97 614.1,1032.65 612.2,1034.33" fill="#111" stroke="#111" stroke-width="0.4" />
<polygon points="584.3,1030.97 582.4,1032.65 584.3,1034.33" fill="#111" stroke="#111" stroke-width="0.4" />
<polygon points="612.2,1034.71 614.1,1036.39 612.2,1038.07" fill="#111" stroke="#111" stroke-width="0.4" />
<polygon points="584.3,1034.71 582.4,1036.39 584.3,1038.07" fill="#111" stroke="#111" stroke-width="0.4" />
<polygon points="612.2,1038.45 614.1,1040.13 612.2,1041.81" fill="#111" stroke="#111" stroke-width="0.4" />
<polygon points="584.3,1038.45 582.4,1040.13 584.3,1041.81" fill="#111" stroke="#111" stroke-width="0.4" />
<line x1="584" y1="1005.1" x2="584" y2="1042" stroke="#1a1a1a" stroke-width="0.9" />
<line x1="612.5" y1="1005.1" x2="612.5" y2="1042" stroke="#1a1a1a" stroke-width="0.9" />
<line x1="583.7" y1="1005.1" x2="612.8" y2="1005.1" stroke="#1a1a1a" stroke-width="1.3" />
<rect x="578.5" y="1042" width="39" height="9.2" rx="2.2" fill="#fff" stroke="#2a2a2a" stroke-width="1.1" />
<line x1="579.3" y1="1044.76" x2="616.7" y2="1044.76" stroke="#555" stroke-width="0.9" />
<line x1="579.3" y1="1048.62" x2="616.7" y2="1048.62" stroke="#555" stroke-width="0.9" />
<line x1="598" y1="1044.76" x2="598" y2="1048.62" stroke="#555" stroke-width="0.9" />
<rect x="537.8" y="1062.5" width="4.6" height="25" rx="1.2" fill="#fff" stroke="#222" stroke-width="1.1" />
<polyline points="519.8,1069.08 514.8,1075.2 519.8,1081.32" fill="#fff" stroke="#222" stroke-width="1.0" />
<rect x="519.8" y="1068.4" width="18" height="13.6" fill="#2b2f38"/>
<line x1="519.8" y1="1067.6" x2="519.8" y2="1068.9" stroke="#111" stroke-width="1.0" />
<line x1="519.8" y1="1081.5" x2="519.8" y2="1082.8" stroke="#111" stroke-width="1.0" />
<line x1="522.05" y1="1067.6" x2="522.05" y2="1068.9" stroke="#111" stroke-width="1.0" />
<line x1="522.05" y1="1081.5" x2="522.05" y2="1082.8" stroke="#111" stroke-width="1.0" />
<line x1="524.3" y1="1067.6" x2="524.3" y2="1068.9" stroke="#111" stroke-width="1.0" />
<line x1="524.3" y1="1081.5" x2="524.3" y2="1082.8" stroke="#111" stroke-width="1.0" />
<line x1="526.55" y1="1067.6" x2="526.55" y2="1068.9" stroke="#111" stroke-width="1.0" />
<line x1="526.55" y1="1081.5" x2="526.55" y2="1082.8" stroke="#111" stroke-width="1.0" />
<line x1="528.8" y1="1067.6" x2="528.8" y2="1068.9" stroke="#111" stroke-width="1.0" />
<line x1="528.8" y1="1081.5" x2="528.8" y2="1082.8" stroke="#111" stroke-width="1.0" />
<line x1="531.05" y1="1067.6" x2="531.05" y2="1068.9" stroke="#111" stroke-width="1.0" />
<line x1="531.05" y1="1081.5" x2="531.05" y2="1082.8" stroke="#111" stroke-width="1.0" />
<line x1="533.3" y1="1067.6" x2="533.3" y2="1068.9" stroke="#111" stroke-width="1.0" />
<line x1="533.3" y1="1081.5" x2="533.3" y2="1082.8" stroke="#111" stroke-width="1.0" />
<line x1="535.55" y1="1067.6" x2="535.55" y2="1068.9" stroke="#111" stroke-width="1.0" />
<line x1="535.55" y1="1081.5" x2="535.55" y2="1082.8" stroke="#111" stroke-width="1.0" />
<line x1="537.8" y1="1067.6" x2="537.8" y2="1068.9" stroke="#111" stroke-width="1.0" />
<line x1="537.8" y1="1081.5" x2="537.8" y2="1082.8" stroke="#111" stroke-width="1.0" />
<line x1="519.42" y1="1069.4" x2="522.42" y2="1081" stroke="#4a4f58" stroke-width="0.6" />
<line x1="521.67" y1="1069.4" x2="524.67" y2="1081" stroke="#4a4f58" stroke-width="0.6" />
<line x1="523.92" y1="1069.4" x2="526.92" y2="1081" stroke="#4a4f58" stroke-width="0.6" />
<line x1="526.17" y1="1069.4" x2="529.17" y2="1081" stroke="#4a4f58" stroke-width="0.6" />
<line x1="528.42" y1="1069.4" x2="531.42" y2="1081" stroke="#4a4f58" stroke-width="0.6" />
<line x1="530.67" y1="1069.4" x2="533.67" y2="1081" stroke="#4a4f58" stroke-width="0.6" />
<line x1="532.92" y1="1069.4" x2="535.92" y2="1081" stroke="#4a4f58" stroke-width="0.6" />
<line x1="535.17" y1="1069.4" x2="538.17" y2="1081" stroke="#4a4f58" stroke-width="0.6" />
<rect x="537.8" y="1303" width="4.6" height="23.5" rx="1.2" fill="#fff" stroke="#222" stroke-width="1.1" />
<polyline points="519.3,1308.08 515,1314.2 519.3,1320.32" fill="#fff" stroke="#222" stroke-width="1.0" />
<rect x="519.3" y="1307.4" width="18.5" height="13.6" fill="#2b2f38"/>
<line x1="519.3" y1="1306.6" x2="519.3" y2="1307.9" stroke="#111" stroke-width="1.0" />
<line x1="519.3" y1="1320.5" x2="519.3" y2="1321.8" stroke="#111" stroke-width="1.0" />
<line x1="521.61" y1="1306.6" x2="521.61" y2="1307.9" stroke="#111" stroke-width="1.0" />
<line x1="521.61" y1="1320.5" x2="521.61" y2="1321.8" stroke="#111" stroke-width="1.0" />
<line x1="523.92" y1="1306.6" x2="523.92" y2="1307.9" stroke="#111" stroke-width="1.0" />
<line x1="523.92" y1="1320.5" x2="523.92" y2="1321.8" stroke="#111" stroke-width="1.0" />
<line x1="526.24" y1="1306.6" x2="526.24" y2="1307.9" stroke="#111" stroke-width="1.0" />
<line x1="526.24" y1="1320.5" x2="526.24" y2="1321.8" stroke="#111" stroke-width="1.0" />
<line x1="528.55" y1="1306.6" x2="528.55" y2="1307.9" stroke="#111" stroke-width="1.0" />
<line x1="528.55" y1="1320.5" x2="528.55" y2="1321.8" stroke="#111" stroke-width="1.0" />
<line x1="530.86" y1="1306.6" x2="530.86" y2="1307.9" stroke="#111" stroke-width="1.0" />
<line x1="530.86" y1="1320.5" x2="530.86" y2="1321.8" stroke="#111" stroke-width="1.0" />
<line x1="533.17" y1="1306.6" x2="533.17" y2="1307.9" stroke="#111" stroke-width="1.0" />
<line x1="533.17" y1="1320.5" x2="533.17" y2="1321.8" stroke="#111" stroke-width="1.0" />
<line x1="535.49" y1="1306.6" x2="535.49" y2="1307.9" stroke="#111" stroke-width="1.0" />
<line x1="535.49" y1="1320.5" x2="535.49" y2="1321.8" stroke="#111" stroke-width="1.0" />
<line x1="537.8" y1="1306.6" x2="537.8" y2="1307.9" stroke="#111" stroke-width="1.0" />
<line x1="537.8" y1="1320.5" x2="537.8" y2="1321.8" stroke="#111" stroke-width="1.0" />
<line x1="518.96" y1="1308.4" x2="521.96" y2="1320" stroke="#4a4f58" stroke-width="0.6" />
<line x1="521.27" y1="1308.4" x2="524.27" y2="1320" stroke="#4a4f58" stroke-width="0.6" />
<line x1="523.58" y1="1308.4" x2="526.58" y2="1320" stroke="#4a4f58" stroke-width="0.6" />
<line x1="525.89" y1="1308.4" x2="528.89" y2="1320" stroke="#4a4f58" stroke-width="0.6" />
<line x1="528.21" y1="1308.4" x2="531.21" y2="1320" stroke="#4a4f58" stroke-width="0.6" />
<line x1="530.52" y1="1308.4" x2="533.52" y2="1320" stroke="#4a4f58" stroke-width="0.6" />
<line x1="532.83" y1="1308.4" x2="535.83" y2="1320" stroke="#4a4f58" stroke-width="0.6" />
<line x1="535.14" y1="1308.4" x2="538.14" y2="1320" stroke="#4a4f58" stroke-width="0.6" />
<path d="M542.4,1246.6 L521.8,1246.6 Q519.3,1246.6 519.3,1249.1 L519.3,1317.7 L542.4,1317.7" fill="#fff" stroke="#2a2a2a" stroke-width="1.1" />
<line x1="521.3" y1="1248.2" x2="521.3" y2="1316.7" stroke="#888" stroke-width="1.0" />
<line x1="613.7" y1="1004.6" x2="705.7" y2="1004.6" stroke="#444" stroke-width="1.0" />
<line x1="641.8" y1="1338.2" x2="705.7" y2="1338.2" stroke="#444" stroke-width="1.0" />
<line x1="698.9" y1="1012.6" x2="698.9" y2="1330.2" stroke="#555" stroke-width="1.0" />
<polygon points="698.9,1004.6 701.9,1019.6 695.9,1019.6" fill="#1c2430" stroke="#1c2430" stroke-width="0.3" />
<polygon points="698.9,1338.2 695.9,1323.2 701.9,1323.2" fill="#1c2430" stroke="#1c2430" stroke-width="0.3" />
<text opacity="0.999" transform="translate(692.6 1195) rotate(-90) scale(0.9208 1)" x="-1.19" y="0" font-size="23.86" fill="#111" >68. 5</text>
<rect x="848.4" y="190.6" width="23.6" height="4.7" rx="1.2" fill="#fff" stroke="#222" stroke-width="1.1" />
<polyline points="854.12,173.7 860.2,169 866.28,173.7" fill="#fff" stroke="#222" stroke-width="1.0" />
<rect x="853.8" y="173.7" width="12.8" height="16.8" fill="#2b2f38"/>
<line x1="852.9" y1="173.7" x2="854.3" y2="173.7" stroke="#111" stroke-width="1.0" />
<line x1="866.1" y1="173.7" x2="867.5" y2="173.7" stroke="#111" stroke-width="1.0" />
<line x1="852.9" y1="176.1" x2="854.3" y2="176.1" stroke="#111" stroke-width="1.0" />
<line x1="866.1" y1="176.1" x2="867.5" y2="176.1" stroke="#111" stroke-width="1.0" />
<line x1="852.9" y1="178.5" x2="854.3" y2="178.5" stroke="#111" stroke-width="1.0" />
<line x1="866.1" y1="178.5" x2="867.5" y2="178.5" stroke="#111" stroke-width="1.0" />
<line x1="852.9" y1="180.9" x2="854.3" y2="180.9" stroke="#111" stroke-width="1.0" />
<line x1="866.1" y1="180.9" x2="867.5" y2="180.9" stroke="#111" stroke-width="1.0" />
<line x1="852.9" y1="183.3" x2="854.3" y2="183.3" stroke="#111" stroke-width="1.0" />
<line x1="866.1" y1="183.3" x2="867.5" y2="183.3" stroke="#111" stroke-width="1.0" />
<line x1="852.9" y1="185.7" x2="854.3" y2="185.7" stroke="#111" stroke-width="1.0" />
<line x1="866.1" y1="185.7" x2="867.5" y2="185.7" stroke="#111" stroke-width="1.0" />
<line x1="852.9" y1="188.1" x2="854.3" y2="188.1" stroke="#111" stroke-width="1.0" />
<line x1="866.1" y1="188.1" x2="867.5" y2="188.1" stroke="#111" stroke-width="1.0" />
<line x1="852.9" y1="190.5" x2="854.3" y2="190.5" stroke="#111" stroke-width="1.0" />
<line x1="866.1" y1="190.5" x2="867.5" y2="190.5" stroke="#111" stroke-width="1.0" />
<line x1="854.8" y1="173.7" x2="865.6" y2="176.1" stroke="#4a4f58" stroke-width="0.6" />
<line x1="854.8" y1="176.1" x2="865.6" y2="178.5" stroke="#4a4f58" stroke-width="0.6" />
<line x1="854.8" y1="178.5" x2="865.6" y2="180.9" stroke="#4a4f58" stroke-width="0.6" />
<line x1="854.8" y1="180.9" x2="865.6" y2="183.3" stroke="#4a4f58" stroke-width="0.6" />
<line x1="854.8" y1="183.3" x2="865.6" y2="185.7" stroke="#4a4f58" stroke-width="0.6" />
<line x1="854.8" y1="185.7" x2="865.6" y2="188.1" stroke="#4a4f58" stroke-width="0.6" />
<line x1="854.8" y1="188.1" x2="865.6" y2="190.5" stroke="#4a4f58" stroke-width="0.6" />
<rect x="990.3" y="173.4" width="13.7" height="21.9" rx="1.2" fill="#fff" stroke="#333" stroke-width="1.0" />
<rect x="1002.3" y="190.6" width="23.7" height="4.7" rx="1.2" fill="#fff" stroke="#222" stroke-width="1.1" />
<polyline points="1009.22,173.7 1015.3,169 1021.38,173.7" fill="#fff" stroke="#222" stroke-width="1.0" />
<rect x="1008.9" y="173.7" width="12.8" height="16.8" fill="#2b2f38"/>
<line x1="1008" y1="173.7" x2="1009.4" y2="173.7" stroke="#111" stroke-width="1.0" />
<line x1="1021.2" y1="173.7" x2="1022.6" y2="173.7" stroke="#111" stroke-width="1.0" />
<line x1="1008" y1="176.1" x2="1009.4" y2="176.1" stroke="#111" stroke-width="1.0" />
<line x1="1021.2" y1="176.1" x2="1022.6" y2="176.1" stroke="#111" stroke-width="1.0" />
<line x1="1008" y1="178.5" x2="1009.4" y2="178.5" stroke="#111" stroke-width="1.0" />
<line x1="1021.2" y1="178.5" x2="1022.6" y2="178.5" stroke="#111" stroke-width="1.0" />
<line x1="1008" y1="180.9" x2="1009.4" y2="180.9" stroke="#111" stroke-width="1.0" />
<line x1="1021.2" y1="180.9" x2="1022.6" y2="180.9" stroke="#111" stroke-width="1.0" />
<line x1="1008" y1="183.3" x2="1009.4" y2="183.3" stroke="#111" stroke-width="1.0" />
<line x1="1021.2" y1="183.3" x2="1022.6" y2="183.3" stroke="#111" stroke-width="1.0" />
<line x1="1008" y1="185.7" x2="1009.4" y2="185.7" stroke="#111" stroke-width="1.0" />
<line x1="1021.2" y1="185.7" x2="1022.6" y2="185.7" stroke="#111" stroke-width="1.0" />
<line x1="1008" y1="188.1" x2="1009.4" y2="188.1" stroke="#111" stroke-width="1.0" />
<line x1="1021.2" y1="188.1" x2="1022.6" y2="188.1" stroke="#111" stroke-width="1.0" />
<line x1="1008" y1="190.5" x2="1009.4" y2="190.5" stroke="#111" stroke-width="1.0" />
<line x1="1021.2" y1="190.5" x2="1022.6" y2="190.5" stroke="#111" stroke-width="1.0" />
<line x1="1009.9" y1="173.7" x2="1020.7" y2="176.1" stroke="#4a4f58" stroke-width="0.6" />
<line x1="1009.9" y1="176.1" x2="1020.7" y2="178.5" stroke="#4a4f58" stroke-width="0.6" />
<line x1="1009.9" y1="178.5" x2="1020.7" y2="180.9" stroke="#4a4f58" stroke-width="0.6" />
<line x1="1009.9" y1="180.9" x2="1020.7" y2="183.3" stroke="#4a4f58" stroke-width="0.6" />
<line x1="1009.9" y1="183.3" x2="1020.7" y2="185.7" stroke="#4a4f58" stroke-width="0.6" />
<line x1="1009.9" y1="185.7" x2="1020.7" y2="188.1" stroke="#4a4f58" stroke-width="0.6" />
<line x1="1009.9" y1="188.1" x2="1020.7" y2="190.5" stroke="#4a4f58" stroke-width="0.6" />
<rect x="849.5" y="381.4" width="175.5" height="2.3" rx="0" fill="#fff" stroke="#444" stroke-width="0.9" />
<rect x="987" y="381.4" width="35.8" height="4.4" rx="1.5" fill="#fff" stroke="#444" stroke-width="0.9" />
<rect x="842.2" y="195.2" width="190.1" height="186.2" fill="#fff"/>
<line x1="841.6" y1="195.2" x2="1032.9" y2="195.2" stroke="#2a2a2a" stroke-width="1.2" />
<line x1="841.6" y1="381.4" x2="1032.9" y2="381.4" stroke="#2a2a2a" stroke-width="1.2" />
<line x1="845.3" y1="195.8" x2="845.3" y2="227" stroke="#a3a3a3" stroke-width="2.6" />
<line x1="845.3" y1="232.2" x2="845.3" y2="238" stroke="#a3a3a3" stroke-width="2.6" />
<line x1="845.3" y1="243.9" x2="845.3" y2="249.7" stroke="#a3a3a3" stroke-width="2.6" />
<line x1="845.3" y1="255.5" x2="845.3" y2="319.5" stroke="#a3a3a3" stroke-width="2.6" />
<line x1="845.3" y1="324.6" x2="845.3" y2="330.5" stroke="#a3a3a3" stroke-width="2.6" />
<line x1="845.3" y1="336.3" x2="845.3" y2="342" stroke="#a3a3a3" stroke-width="2.6" />
<line x1="845.3" y1="348" x2="845.3" y2="380.8" stroke="#a3a3a3" stroke-width="2.6" />
<line x1="1028.6" y1="195.8" x2="1028.6" y2="227" stroke="#a3a3a3" stroke-width="2.6" />
<line x1="1028.6" y1="232.2" x2="1028.6" y2="238" stroke="#a3a3a3" stroke-width="2.6" />
<line x1="1028.6" y1="243.9" x2="1028.6" y2="249.7" stroke="#a3a3a3" stroke-width="2.6" />
<line x1="1028.6" y1="255.5" x2="1028.6" y2="319.5" stroke="#a3a3a3" stroke-width="2.6" />
<line x1="1028.6" y1="324.6" x2="1028.6" y2="330.5" stroke="#a3a3a3" stroke-width="2.6" />
<line x1="1028.6" y1="336.3" x2="1028.6" y2="342" stroke="#a3a3a3" stroke-width="2.6" />
<line x1="1028.6" y1="348" x2="1028.6" y2="380.8" stroke="#a3a3a3" stroke-width="2.6" />
<line x1="842.2" y1="195.2" x2="842.2" y2="227" stroke="#2a2a2a" stroke-width="1.2" />
<line x1="842.2" y1="232.2" x2="842.2" y2="238" stroke="#2a2a2a" stroke-width="1.2" />
<line x1="842.2" y1="243.9" x2="842.2" y2="249.7" stroke="#2a2a2a" stroke-width="1.2" />
<line x1="842.2" y1="255.5" x2="842.2" y2="319.5" stroke="#2a2a2a" stroke-width="1.2" />
<line x1="842.2" y1="324.6" x2="842.2" y2="330.5" stroke="#2a2a2a" stroke-width="1.2" />
<line x1="842.2" y1="336.3" x2="842.2" y2="342" stroke="#2a2a2a" stroke-width="1.2" />
<line x1="842.2" y1="348" x2="842.2" y2="381.4" stroke="#2a2a2a" stroke-width="1.2" />
<line x1="842.2" y1="227" x2="842.2" y2="232.2" stroke="#777" stroke-width="0.8" />
<line x1="842.2" y1="238" x2="842.2" y2="243.9" stroke="#777" stroke-width="0.8" />
<line x1="842.2" y1="249.7" x2="842.2" y2="255.5" stroke="#777" stroke-width="0.8" />
<line x1="842.2" y1="319.5" x2="842.2" y2="324.6" stroke="#777" stroke-width="0.8" />
<line x1="842.2" y1="330.5" x2="842.2" y2="336.3" stroke="#777" stroke-width="0.8" />
<line x1="842.2" y1="342" x2="842.2" y2="348" stroke="#777" stroke-width="0.8" />
<line x1="1032.3" y1="195.2" x2="1032.3" y2="227" stroke="#2a2a2a" stroke-width="1.2" />
<line x1="1032.3" y1="232.2" x2="1032.3" y2="238" stroke="#2a2a2a" stroke-width="1.2" />
<line x1="1032.3" y1="243.9" x2="1032.3" y2="249.7" stroke="#2a2a2a" stroke-width="1.2" />
<line x1="1032.3" y1="255.5" x2="1032.3" y2="319.5" stroke="#2a2a2a" stroke-width="1.2" />
<line x1="1032.3" y1="324.6" x2="1032.3" y2="330.5" stroke="#2a2a2a" stroke-width="1.2" />
<line x1="1032.3" y1="336.3" x2="1032.3" y2="342" stroke="#2a2a2a" stroke-width="1.2" />
<line x1="1032.3" y1="348" x2="1032.3" y2="381.4" stroke="#2a2a2a" stroke-width="1.2" />
<line x1="1032.3" y1="227" x2="1032.3" y2="232.2" stroke="#777" stroke-width="0.8" />
<line x1="1032.3" y1="238" x2="1032.3" y2="243.9" stroke="#777" stroke-width="0.8" />
<line x1="1032.3" y1="249.7" x2="1032.3" y2="255.5" stroke="#777" stroke-width="0.8" />
<line x1="1032.3" y1="319.5" x2="1032.3" y2="324.6" stroke="#777" stroke-width="0.8" />
<line x1="1032.3" y1="330.5" x2="1032.3" y2="336.3" stroke="#777" stroke-width="0.8" />
<line x1="1032.3" y1="342" x2="1032.3" y2="348" stroke="#777" stroke-width="0.8" />
<rect x="849" y="203.5" width="176" height="78.9" rx="3" fill="none" stroke="#333" stroke-width="1.1" />
<line x1="842.2" y1="287.4" x2="1032.3" y2="287.4" stroke="#2a2a2a" stroke-width="1.5" />
<line x1="843" y1="289.3" x2="1031.5" y2="289.3" stroke="#aaa" stroke-width="0.9" />
<rect x="849" y="296.3" width="176" height="79.7" rx="3" fill="none" stroke="#333" stroke-width="1.1" />
<polygon points="977.9,341.5 966.85,360.64 944.75,360.64 933.7,341.5 944.75,322.36 966.85,322.36" fill="#fff" stroke="#222" stroke-width="1.1" />
<circle cx="955.8" cy="341.5" r="17.46" fill="none" stroke="#999" stroke-width="1.4" />
<circle cx="955.8" cy="341.5" r="14.59" fill="none" stroke="#333" stroke-width="1.0" />
<polygon points="957.65,328.37 968.09,336.53 966.25,349.66 953.95,354.63 943.51,346.47 945.35,333.34" fill="none" stroke="#222" stroke-width="1.5" />
<circle cx="955.8" cy="341.5" r="10.39" fill="#fff" stroke="#222" stroke-width="1.1" />
<circle cx="955.8" cy="341.5" r="2.87" fill="none" stroke="#222" stroke-width="1.0" />
<line x1="1035" y1="195.2" x2="1076" y2="195.2" stroke="#444" stroke-width="1.0" />
<line x1="1035" y1="381.4" x2="1076" y2="381.4" stroke="#444" stroke-width="1.0" />
<line x1="1069.4" y1="203.2" x2="1069.4" y2="373.4" stroke="#555" stroke-width="1.0" />
<polygon points="1069.4,195.2 1072.4,210.2 1066.4,210.2" fill="#1c2430" stroke="#1c2430" stroke-width="0.3" />
<polygon points="1069.4,381.4 1066.4,366.4 1072.4,366.4" fill="#1c2430" stroke="#1c2430" stroke-width="0.3" />
<text opacity="0.999" transform="translate(1063.7 299.3) rotate(-90) scale(0.9138 1)" x="-0.58" y="0" font-size="23.14" fill="#111" >40</text>
<line x1="842.1" y1="383.1" x2="842.1" y2="424.9" stroke="#444" stroke-width="1.0" />
<line x1="1032.4" y1="382.8" x2="1032.4" y2="424.9" stroke="#444" stroke-width="1.0" />
<line x1="849.6" y1="424.7" x2="1018.6" y2="424.7" stroke="#555" stroke-width="1.0" />
<polygon points="841.6,424.7 857.1,421.8 857.1,427.6" fill="#1c2430" stroke="#1c2430" stroke-width="0.3" />
<polygon points="1026.6,424.7 1011.1,427.6 1011.1,421.8" fill="#1c2430" stroke="#1c2430" stroke-width="0.3" />
<text opacity="0.999" transform="translate(924.7 418.8) scale(0.8000 1)" x="-0.54" y="0" font-size="21.74" fill="#111" >41</text>
<rect x="808.2" y="681.2" width="26.6" height="5.2" rx="1.2" fill="#fff" stroke="#222" stroke-width="1.1" />
<polyline points="815.42,661.5 821.5,656.7 827.58,661.5" fill="#fff" stroke="#222" stroke-width="1.0" />
<rect x="815.1" y="661.5" width="12.8" height="19.5" fill="#2b2f38"/>
<line x1="814.2" y1="661.5" x2="815.6" y2="661.5" stroke="#111" stroke-width="1.0" />
<line x1="827.4" y1="661.5" x2="828.8" y2="661.5" stroke="#111" stroke-width="1.0" />
<line x1="814.2" y1="663.94" x2="815.6" y2="663.94" stroke="#111" stroke-width="1.0" />
<line x1="827.4" y1="663.94" x2="828.8" y2="663.94" stroke="#111" stroke-width="1.0" />
<line x1="814.2" y1="666.38" x2="815.6" y2="666.38" stroke="#111" stroke-width="1.0" />
<line x1="827.4" y1="666.38" x2="828.8" y2="666.38" stroke="#111" stroke-width="1.0" />
<line x1="814.2" y1="668.81" x2="815.6" y2="668.81" stroke="#111" stroke-width="1.0" />
<line x1="827.4" y1="668.81" x2="828.8" y2="668.81" stroke="#111" stroke-width="1.0" />
<line x1="814.2" y1="671.25" x2="815.6" y2="671.25" stroke="#111" stroke-width="1.0" />
<line x1="827.4" y1="671.25" x2="828.8" y2="671.25" stroke="#111" stroke-width="1.0" />
<line x1="814.2" y1="673.69" x2="815.6" y2="673.69" stroke="#111" stroke-width="1.0" />
<line x1="827.4" y1="673.69" x2="828.8" y2="673.69" stroke="#111" stroke-width="1.0" />
<line x1="814.2" y1="676.12" x2="815.6" y2="676.12" stroke="#111" stroke-width="1.0" />
<line x1="827.4" y1="676.12" x2="828.8" y2="676.12" stroke="#111" stroke-width="1.0" />
<line x1="814.2" y1="678.56" x2="815.6" y2="678.56" stroke="#111" stroke-width="1.0" />
<line x1="827.4" y1="678.56" x2="828.8" y2="678.56" stroke="#111" stroke-width="1.0" />
<line x1="814.2" y1="681" x2="815.6" y2="681" stroke="#111" stroke-width="1.0" />
<line x1="827.4" y1="681" x2="828.8" y2="681" stroke="#111" stroke-width="1.0" />
<line x1="816.1" y1="661.52" x2="826.9" y2="663.92" stroke="#4a4f58" stroke-width="0.6" />
<line x1="816.1" y1="663.96" x2="826.9" y2="666.36" stroke="#4a4f58" stroke-width="0.6" />
<line x1="816.1" y1="666.39" x2="826.9" y2="668.79" stroke="#4a4f58" stroke-width="0.6" />
<line x1="816.1" y1="668.83" x2="826.9" y2="671.23" stroke="#4a4f58" stroke-width="0.6" />
<line x1="816.1" y1="671.27" x2="826.9" y2="673.67" stroke="#4a4f58" stroke-width="0.6" />
<line x1="816.1" y1="673.71" x2="826.9" y2="676.11" stroke="#4a4f58" stroke-width="0.6" />
<line x1="816.1" y1="676.14" x2="826.9" y2="678.54" stroke="#4a4f58" stroke-width="0.6" />
<line x1="816.1" y1="678.58" x2="826.9" y2="680.98" stroke="#4a4f58" stroke-width="0.6" />
<rect x="966.2" y="662.5" width="13.8" height="23.9" rx="1.2" fill="#fff" stroke="#333" stroke-width="1.0" />
<rect x="979.5" y="681.2" width="26.3" height="5.2" rx="1.2" fill="#fff" stroke="#222" stroke-width="1.1" />
<polyline points="986.42,661.5 992.5,656.7 998.58,661.5" fill="#fff" stroke="#222" stroke-width="1.0" />
<rect x="986.1" y="661.5" width="12.8" height="19.5" fill="#2b2f38"/>
<line x1="985.2" y1="661.5" x2="986.6" y2="661.5" stroke="#111" stroke-width="1.0" />
<line x1="998.4" y1="661.5" x2="999.8" y2="661.5" stroke="#111" stroke-width="1.0" />
<line x1="985.2" y1="663.94" x2="986.6" y2="663.94" stroke="#111" stroke-width="1.0" />
<line x1="998.4" y1="663.94" x2="999.8" y2="663.94" stroke="#111" stroke-width="1.0" />
<line x1="985.2" y1="666.38" x2="986.6" y2="666.38" stroke="#111" stroke-width="1.0" />
<line x1="998.4" y1="666.38" x2="999.8" y2="666.38" stroke="#111" stroke-width="1.0" />
<line x1="985.2" y1="668.81" x2="986.6" y2="668.81" stroke="#111" stroke-width="1.0" />
<line x1="998.4" y1="668.81" x2="999.8" y2="668.81" stroke="#111" stroke-width="1.0" />
<line x1="985.2" y1="671.25" x2="986.6" y2="671.25" stroke="#111" stroke-width="1.0" />
<line x1="998.4" y1="671.25" x2="999.8" y2="671.25" stroke="#111" stroke-width="1.0" />
<line x1="985.2" y1="673.69" x2="986.6" y2="673.69" stroke="#111" stroke-width="1.0" />
<line x1="998.4" y1="673.69" x2="999.8" y2="673.69" stroke="#111" stroke-width="1.0" />
<line x1="985.2" y1="676.12" x2="986.6" y2="676.12" stroke="#111" stroke-width="1.0" />
<line x1="998.4" y1="676.12" x2="999.8" y2="676.12" stroke="#111" stroke-width="1.0" />
<line x1="985.2" y1="678.56" x2="986.6" y2="678.56" stroke="#111" stroke-width="1.0" />
<line x1="998.4" y1="678.56" x2="999.8" y2="678.56" stroke="#111" stroke-width="1.0" />
<line x1="985.2" y1="681" x2="986.6" y2="681" stroke="#111" stroke-width="1.0" />
<line x1="998.4" y1="681" x2="999.8" y2="681" stroke="#111" stroke-width="1.0" />
<line x1="987.1" y1="661.52" x2="997.9" y2="663.92" stroke="#4a4f58" stroke-width="0.6" />
<line x1="987.1" y1="663.96" x2="997.9" y2="666.36" stroke="#4a4f58" stroke-width="0.6" />
<line x1="987.1" y1="666.39" x2="997.9" y2="668.79" stroke="#4a4f58" stroke-width="0.6" />
<line x1="987.1" y1="668.83" x2="997.9" y2="671.23" stroke="#4a4f58" stroke-width="0.6" />
<line x1="987.1" y1="671.27" x2="997.9" y2="673.67" stroke="#4a4f58" stroke-width="0.6" />
<line x1="987.1" y1="673.71" x2="997.9" y2="676.11" stroke="#4a4f58" stroke-width="0.6" />
<line x1="987.1" y1="676.14" x2="997.9" y2="678.54" stroke="#4a4f58" stroke-width="0.6" />
<line x1="987.1" y1="678.58" x2="997.9" y2="680.98" stroke="#4a4f58" stroke-width="0.6" />
<rect x="809.8" y="789" width="194.9" height="3" rx="0" fill="#fff" stroke="#444" stroke-width="0.9" />
<rect x="962.7" y="789" width="41.3" height="5.3" rx="1.5" fill="#fff" stroke="#444" stroke-width="0.9" />
<rect x="801.2" y="686.3" width="211.6" height="102.7" fill="#fff"/>
<line x1="800.6" y1="686.3" x2="1013.4" y2="686.3" stroke="#2a2a2a" stroke-width="1.2" />
<line x1="800.6" y1="789" x2="1013.4" y2="789" stroke="#2a2a2a" stroke-width="1.2" />
<line x1="801.2" y1="686.3" x2="801.2" y2="789" stroke="#2a2a2a" stroke-width="1.2" />
<line x1="1012.8" y1="686.3" x2="1012.8" y2="789" stroke="#2a2a2a" stroke-width="1.2" />
<line x1="803.7" y1="686.9" x2="803.7" y2="788.4" stroke="#3a3a3a" stroke-width="1.0" stroke-dasharray="2 1.2"/>
<line x1="806.3" y1="686.9" x2="806.3" y2="788.4" stroke="#3a3a3a" stroke-width="1.0" stroke-dasharray="2 1.2"/>
<line x1="1007.7" y1="686.9" x2="1007.7" y2="788.4" stroke="#3a3a3a" stroke-width="1.0" stroke-dasharray="2 1.2"/>
<line x1="1010.3" y1="686.9" x2="1010.3" y2="788.4" stroke="#3a3a3a" stroke-width="1.0" stroke-dasharray="2 1.2"/>
<rect x="808.7" y="695.2" width="196" height="87.9" rx="4" fill="none" stroke="#333" stroke-width="1.1" />
<path d="M859.3,717.8 L928.3,717.8 Q932.8,717.8 933.2,722.3 L939.7,762.1 Q940.3,766.6 935.8,766.6 L852.7,766.6 Q848.2,766.6 848.8,762.1 L854.4,722.3 Q854.8,717.8 859.3,717.8 Z" fill="none" stroke="#333" stroke-width="1.0" />
<path d="M860.3,720.3 L927.3,720.3 Q930.3,720.3 930.7,723.3 L936.9,761.1 Q937.5,764.1 934.5,764.1 L854,764.1 Q851,764.1 851.6,761.1 L856.9,723.3 Q857.3,720.3 860.3,720.3 Z" fill="none" stroke="#333" stroke-width="1.0" />
<circle cx="874.5" cy="735.6" r="2.4" fill="none" stroke="#333" stroke-width="0.9" />
<circle cx="887.6" cy="735.6" r="2.4" fill="none" stroke="#333" stroke-width="0.9" />
<circle cx="900.7" cy="735.6" r="2.4" fill="none" stroke="#333" stroke-width="0.9" />
<circle cx="913.8" cy="735.6" r="2.4" fill="none" stroke="#333" stroke-width="0.9" />
<circle cx="867.8" cy="748.8" r="2.4" fill="none" stroke="#333" stroke-width="0.9" />
<circle cx="880.9" cy="748.8" r="2.4" fill="none" stroke="#333" stroke-width="0.9" />
<circle cx="894.1" cy="748.8" r="2.4" fill="none" stroke="#333" stroke-width="0.9" />
<circle cx="907.2" cy="748.8" r="2.4" fill="none" stroke="#333" stroke-width="0.9" />
<circle cx="920.3" cy="748.8" r="2.4" fill="none" stroke="#333" stroke-width="0.9" />
<polygon points="843.9,741.9 836.8,754.2 822.6,754.2 815.5,741.9 822.6,729.6 836.8,729.6" fill="none" stroke="#333" stroke-width="1.0" />
<circle cx="829.7" cy="741.9" r="7.1" fill="none" stroke="#333" stroke-width="1.0" />
<polygon points="972.7,741.9 965.6,754.2 951.4,754.2 944.3,741.9 951.4,729.6 965.6,729.6" fill="none" stroke="#333" stroke-width="1.0" />
<circle cx="958.5" cy="741.9" r="7.1" fill="none" stroke="#333" stroke-width="1.0" />
<line x1="1017.5" y1="686.3" x2="1061" y2="686.3" stroke="#444" stroke-width="1.0" />
<line x1="1017.5" y1="789" x2="1061" y2="789" stroke="#444" stroke-width="1.0" />
<line x1="1054.8" y1="694.3" x2="1054.8" y2="781" stroke="#555" stroke-width="1.0" />
<polygon points="1054.8,686.3 1057.8,701.3 1051.8,701.3" fill="#1c2430" stroke="#1c2430" stroke-width="0.3" />
<polygon points="1054.8,789 1051.8,774 1057.8,774" fill="#1c2430" stroke="#1c2430" stroke-width="0.3" />
<text opacity="0.999" transform="translate(1049.3 746.8) rotate(-90) scale(0.9280 1)" x="-1.26" y="0" font-size="25.14" fill="#111" >20</text>
<line x1="801.2" y1="794.1" x2="801.2" y2="836.1" stroke="#444" stroke-width="1.0" />
<line x1="1013" y1="794.1" x2="1013" y2="836.1" stroke="#444" stroke-width="1.0" />
<line x1="809.2" y1="831.1" x2="1003.6" y2="831.1" stroke="#555" stroke-width="1.0" />
<polygon points="801.2,831.1 814.9,828.6 814.9,833.6" fill="#1c2430" stroke="#1c2430" stroke-width="0.3" />
<polygon points="1011.6,831.1 997.9,833.6 997.9,828.6" fill="#1c2430" stroke="#1c2430" stroke-width="0.3" />
<text opacity="0.999" transform="translate(898 825.8) scale(0.7886 1)" x="-0.63" y="0" font-size="25.36" fill="#111" >41</text>
<rect x="808.2" y="1116.2" width="26.1" height="5.4" rx="1.2" fill="#fff" stroke="#222" stroke-width="1.1" />
<polyline points="815.42,1096.8 821.5,1092 827.58,1096.8" fill="#fff" stroke="#222" stroke-width="1.0" />
<rect x="815.1" y="1096.8" width="12.8" height="19.2" fill="#2b2f38"/>
<line x1="814.2" y1="1096.8" x2="815.6" y2="1096.8" stroke="#111" stroke-width="1.0" />
<line x1="827.4" y1="1096.8" x2="828.8" y2="1096.8" stroke="#111" stroke-width="1.0" />
<line x1="814.2" y1="1099.2" x2="815.6" y2="1099.2" stroke="#111" stroke-width="1.0" />
<line x1="827.4" y1="1099.2" x2="828.8" y2="1099.2" stroke="#111" stroke-width="1.0" />
<line x1="814.2" y1="1101.6" x2="815.6" y2="1101.6" stroke="#111" stroke-width="1.0" />
<line x1="827.4" y1="1101.6" x2="828.8" y2="1101.6" stroke="#111" stroke-width="1.0" />
<line x1="814.2" y1="1104" x2="815.6" y2="1104" stroke="#111" stroke-width="1.0" />
<line x1="827.4" y1="1104" x2="828.8" y2="1104" stroke="#111" stroke-width="1.0" />
<line x1="814.2" y1="1106.4" x2="815.6" y2="1106.4" stroke="#111" stroke-width="1.0" />
<line x1="827.4" y1="1106.4" x2="828.8" y2="1106.4" stroke="#111" stroke-width="1.0" />
<line x1="814.2" y1="1108.8" x2="815.6" y2="1108.8" stroke="#111" stroke-width="1.0" />
<line x1="827.4" y1="1108.8" x2="828.8" y2="1108.8" stroke="#111" stroke-width="1.0" />
<line x1="814.2" y1="1111.2" x2="815.6" y2="1111.2" stroke="#111" stroke-width="1.0" />
<line x1="827.4" y1="1111.2" x2="828.8" y2="1111.2" stroke="#111" stroke-width="1.0" />
<line x1="814.2" y1="1113.6" x2="815.6" y2="1113.6" stroke="#111" stroke-width="1.0" />
<line x1="827.4" y1="1113.6" x2="828.8" y2="1113.6" stroke="#111" stroke-width="1.0" />
<line x1="814.2" y1="1116" x2="815.6" y2="1116" stroke="#111" stroke-width="1.0" />
<line x1="827.4" y1="1116" x2="828.8" y2="1116" stroke="#111" stroke-width="1.0" />
<line x1="816.1" y1="1096.8" x2="826.9" y2="1099.2" stroke="#4a4f58" stroke-width="0.6" />
<line x1="816.1" y1="1099.2" x2="826.9" y2="1101.6" stroke="#4a4f58" stroke-width="0.6" />
<line x1="816.1" y1="1101.6" x2="826.9" y2="1104" stroke="#4a4f58" stroke-width="0.6" />
<line x1="816.1" y1="1104" x2="826.9" y2="1106.4" stroke="#4a4f58" stroke-width="0.6" />
<line x1="816.1" y1="1106.4" x2="826.9" y2="1108.8" stroke="#4a4f58" stroke-width="0.6" />
<line x1="816.1" y1="1108.8" x2="826.9" y2="1111.2" stroke="#4a4f58" stroke-width="0.6" />
<line x1="816.1" y1="1111.2" x2="826.9" y2="1113.6" stroke="#4a4f58" stroke-width="0.6" />
<line x1="816.1" y1="1113.6" x2="826.9" y2="1116" stroke="#4a4f58" stroke-width="0.6" />
<rect x="963.1" y="1097.5" width="13.9" height="24.1" rx="1.2" fill="#fff" stroke="#333" stroke-width="1.0" />
<rect x="976.7" y="1116.2" width="26.1" height="5.4" rx="1.2" fill="#fff" stroke="#222" stroke-width="1.1" />
<polyline points="984.12,1096.8 990.2,1092 996.28,1096.8" fill="#fff" stroke="#222" stroke-width="1.0" />
<rect x="983.8" y="1096.8" width="12.8" height="19.2" fill="#2b2f38"/>
<line x1="982.9" y1="1096.8" x2="984.3" y2="1096.8" stroke="#111" stroke-width="1.0" />
<line x1="996.1" y1="1096.8" x2="997.5" y2="1096.8" stroke="#111" stroke-width="1.0" />
<line x1="982.9" y1="1099.2" x2="984.3" y2="1099.2" stroke="#111" stroke-width="1.0" />
<line x1="996.1" y1="1099.2" x2="997.5" y2="1099.2" stroke="#111" stroke-width="1.0" />
<line x1="982.9" y1="1101.6" x2="984.3" y2="1101.6" stroke="#111" stroke-width="1.0" />
<line x1="996.1" y1="1101.6" x2="997.5" y2="1101.6" stroke="#111" stroke-width="1.0" />
<line x1="982.9" y1="1104" x2="984.3" y2="1104" stroke="#111" stroke-width="1.0" />
<line x1="996.1" y1="1104" x2="997.5" y2="1104" stroke="#111" stroke-width="1.0" />
<line x1="982.9" y1="1106.4" x2="984.3" y2="1106.4" stroke="#111" stroke-width="1.0" />
<line x1="996.1" y1="1106.4" x2="997.5" y2="1106.4" stroke="#111" stroke-width="1.0" />
<line x1="982.9" y1="1108.8" x2="984.3" y2="1108.8" stroke="#111" stroke-width="1.0" />
<line x1="996.1" y1="1108.8" x2="997.5" y2="1108.8" stroke="#111" stroke-width="1.0" />
<line x1="982.9" y1="1111.2" x2="984.3" y2="1111.2" stroke="#111" stroke-width="1.0" />
<line x1="996.1" y1="1111.2" x2="997.5" y2="1111.2" stroke="#111" stroke-width="1.0" />
<line x1="982.9" y1="1113.6" x2="984.3" y2="1113.6" stroke="#111" stroke-width="1.0" />
<line x1="996.1" y1="1113.6" x2="997.5" y2="1113.6" stroke="#111" stroke-width="1.0" />
<line x1="982.9" y1="1116" x2="984.3" y2="1116" stroke="#111" stroke-width="1.0" />
<line x1="996.1" y1="1116" x2="997.5" y2="1116" stroke="#111" stroke-width="1.0" />
<line x1="984.8" y1="1096.8" x2="995.6" y2="1099.2" stroke="#4a4f58" stroke-width="0.6" />
<line x1="984.8" y1="1099.2" x2="995.6" y2="1101.6" stroke="#4a4f58" stroke-width="0.6" />
<line x1="984.8" y1="1101.6" x2="995.6" y2="1104" stroke="#4a4f58" stroke-width="0.6" />
<line x1="984.8" y1="1104" x2="995.6" y2="1106.4" stroke="#4a4f58" stroke-width="0.6" />
<line x1="984.8" y1="1106.4" x2="995.6" y2="1108.8" stroke="#4a4f58" stroke-width="0.6" />
<line x1="984.8" y1="1108.8" x2="995.6" y2="1111.2" stroke="#4a4f58" stroke-width="0.6" />
<line x1="984.8" y1="1111.2" x2="995.6" y2="1113.6" stroke="#4a4f58" stroke-width="0.6" />
<line x1="984.8" y1="1113.6" x2="995.6" y2="1116" stroke="#4a4f58" stroke-width="0.6" />
<rect x="809.8" y="1223" width="192.2" height="2.8" rx="0" fill="#fff" stroke="#444" stroke-width="0.9" />
<rect x="959.9" y="1223" width="41.3" height="5.2" rx="1.5" fill="#fff" stroke="#444" stroke-width="0.9" />
<rect x="801.2" y="1121.5" width="208.6" height="101.5" fill="#fff"/>
<line x1="800.6" y1="1121.5" x2="1010.4" y2="1121.5" stroke="#2a2a2a" stroke-width="1.2" />
<line x1="800.6" y1="1223" x2="1010.4" y2="1223" stroke="#2a2a2a" stroke-width="1.2" />
<line x1="805.4" y1="1122.1" x2="805.4" y2="1155.4" stroke="#a3a3a3" stroke-width="2.6" />
<line x1="805.4" y1="1162.4" x2="805.4" y2="1168.5" stroke="#a3a3a3" stroke-width="2.6" />
<line x1="805.4" y1="1175.5" x2="805.4" y2="1181.7" stroke="#a3a3a3" stroke-width="2.6" />
<line x1="805.4" y1="1188.2" x2="805.4" y2="1222.4" stroke="#a3a3a3" stroke-width="2.6" />
<line x1="1005.6" y1="1122.1" x2="1005.6" y2="1155.4" stroke="#a3a3a3" stroke-width="2.6" />
<line x1="1005.6" y1="1162.4" x2="1005.6" y2="1168.5" stroke="#a3a3a3" stroke-width="2.6" />
<line x1="1005.6" y1="1175.5" x2="1005.6" y2="1181.7" stroke="#a3a3a3" stroke-width="2.6" />
<line x1="1005.6" y1="1188.2" x2="1005.6" y2="1222.4" stroke="#a3a3a3" stroke-width="2.6" />
<line x1="801.2" y1="1121.5" x2="801.2" y2="1155.4" stroke="#2a2a2a" stroke-width="1.2" />
<line x1="801.2" y1="1162.4" x2="801.2" y2="1168.5" stroke="#2a2a2a" stroke-width="1.2" />
<line x1="801.2" y1="1175.5" x2="801.2" y2="1181.7" stroke="#2a2a2a" stroke-width="1.2" />
<line x1="801.2" y1="1188.2" x2="801.2" y2="1223" stroke="#2a2a2a" stroke-width="1.2" />
<line x1="801.2" y1="1155.4" x2="801.2" y2="1162.4" stroke="#777" stroke-width="0.8" />
<line x1="801.2" y1="1168.5" x2="801.2" y2="1175.5" stroke="#777" stroke-width="0.8" />
<line x1="801.2" y1="1181.7" x2="801.2" y2="1188.2" stroke="#777" stroke-width="0.8" />
<line x1="1009.8" y1="1121.5" x2="1009.8" y2="1155.4" stroke="#2a2a2a" stroke-width="1.2" />
<line x1="1009.8" y1="1162.4" x2="1009.8" y2="1168.5" stroke="#2a2a2a" stroke-width="1.2" />
<line x1="1009.8" y1="1175.5" x2="1009.8" y2="1181.7" stroke="#2a2a2a" stroke-width="1.2" />
<line x1="1009.8" y1="1188.2" x2="1009.8" y2="1223" stroke="#2a2a2a" stroke-width="1.2" />
<line x1="1009.8" y1="1155.4" x2="1009.8" y2="1162.4" stroke="#777" stroke-width="0.8" />
<line x1="1009.8" y1="1168.5" x2="1009.8" y2="1175.5" stroke="#777" stroke-width="0.8" />
<line x1="1009.8" y1="1181.7" x2="1009.8" y2="1188.2" stroke="#777" stroke-width="0.8" />
<rect x="808.7" y="1130.2" width="193.6" height="87.5" rx="4" fill="none" stroke="#333" stroke-width="1.1" />
<polygon points="949.6,1179.9 937.7,1200.51 913.9,1200.51 902,1179.9 913.9,1159.29 937.7,1159.29" fill="#fff" stroke="#222" stroke-width="1.1" />
<circle cx="925.8" cy="1179.9" r="18.8" fill="none" stroke="#999" stroke-width="1.4" />
<circle cx="925.8" cy="1179.9" r="15.71" fill="none" stroke="#333" stroke-width="1.0" />
<polygon points="927.79,1165.76 939.04,1174.55 937.05,1188.69 923.81,1194.04 912.56,1185.25 914.55,1171.11" fill="none" stroke="#222" stroke-width="1.5" />
<circle cx="925.8" cy="1179.9" r="11.19" fill="#fff" stroke="#222" stroke-width="1.1" />
<circle cx="925.8" cy="1179.9" r="3.09" fill="none" stroke="#222" stroke-width="1.0" />
<line x1="1012" y1="1121.5" x2="1057.5" y2="1121.5" stroke="#444" stroke-width="1.0" />
<line x1="1012" y1="1223" x2="1057.5" y2="1223" stroke="#444" stroke-width="1.0" />
<line x1="1050.9" y1="1129.5" x2="1050.9" y2="1215" stroke="#555" stroke-width="1.0" />
<polygon points="1050.9,1121.5 1053.9,1136.5 1047.9,1136.5" fill="#1c2430" stroke="#1c2430" stroke-width="0.3" />
<polygon points="1050.9,1223 1047.9,1208 1053.9,1208" fill="#1c2430" stroke="#1c2430" stroke-width="0.3" />
<text opacity="0.999" transform="translate(1044 1184) rotate(-90) scale(0.9189 1)" x="-1.26" y="0" font-size="25.29" fill="#111" >20</text>
<line x1="801.2" y1="1226.1" x2="801.2" y2="1270.7" stroke="#444" stroke-width="1.0" />
<line x1="1010" y1="1226.1" x2="1010" y2="1270.7" stroke="#444" stroke-width="1.0" />
<line x1="809.2" y1="1264.3" x2="1002" y2="1264.3" stroke="#555" stroke-width="1.0" />
<polygon points="801.2,1264.3 817.5,1261.1 817.5,1267.5" fill="#1c2430" stroke="#1c2430" stroke-width="0.3" />
<polygon points="1010,1264.3 993.7,1267.5 993.7,1261.1" fill="#1c2430" stroke="#1c2430" stroke-width="0.3" />
<text opacity="0.999" transform="translate(895.2 1257.8) scale(0.7765 1)" x="-0.64" y="0" font-size="25.51" fill="#111" >41</text>
<text opacity="0.999" transform="translate(144.3 64.8) scale(1.0415 1)" x="-1.41" y="0" font-size="17.66" fill="#555" >FM9/FM10</text>
<text opacity="0.999" transform="translate(145 552) scale(1.0593 1)" x="-1.49" y="0" font-size="18.62" fill="#555" >FM8/FM15</text>
<text opacity="0.999" transform="translate(146.2 997.3) scale(0.9962 1)" x="-1.65" y="0" font-size="20.57" fill="#555" >FM16</text>
</svg>
</body></html>
